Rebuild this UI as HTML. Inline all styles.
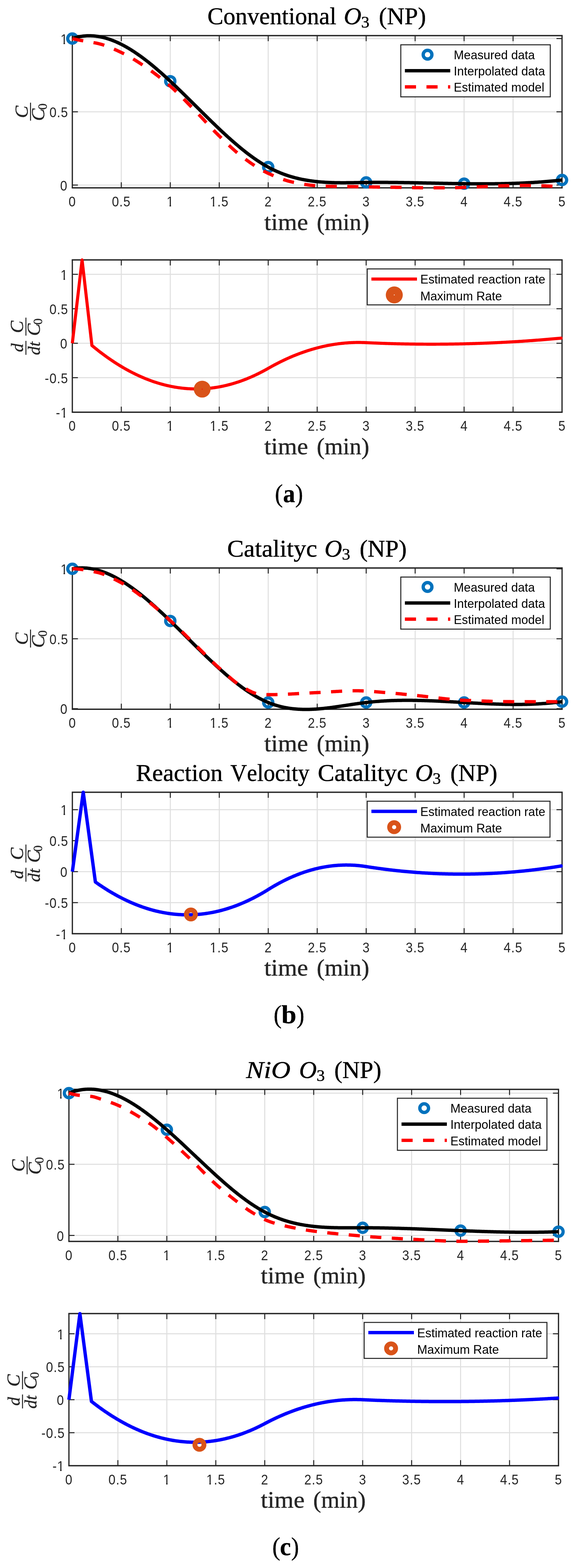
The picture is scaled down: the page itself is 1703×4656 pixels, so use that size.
<!DOCTYPE html>
<html lang="en"><head><meta charset="utf-8"><title>Figure</title>
<style>html,body{margin:0;padding:0;background:#fff}svg{display:block}text{white-space:pre;font-kerning:none}</style></head><body>
<svg width="1703" height="4656" viewBox="0 0 1703 4656" role="img" aria-label="Measured, interpolated and estimated concentration curves with estimated reaction rates">
<rect width="1703" height="4656" fill="#fff"/>
<clipPath id="k1e"><rect x="-200" y="-50.4" width="400" height="46.16"/><rect x="-13.4" y="-4.74" width="4.91" height="6.24"/></clipPath>
<clipPath id="k1n"><rect x="-200" y="-50.4" width="400" height="46.16"/><rect x="-14.9" y="-4.74" width="4.91" height="6.24"/></clipPath>
<clipPath id="k1m"><rect x="-200" y="-50.4" width="400" height="46.16"/><rect x="-1.72" y="-4.74" width="4.91" height="6.24"/></clipPath>
<clipPath id="k15"><rect x="-200" y="-50.4" width="400" height="46.16"/><rect x="-21.48" y="-4.74" width="4.91" height="6.24"/><rect x="-7.78" y="-4.74" width="200" height="10.24"/></clipPath>
<clipPath id="c1"><rect x="208.6" y="99.8" width="1464.9" height="463.9"/></clipPath>
<path d="M359.89,105.8V557.7M505.18,105.8V557.7M650.47,105.8V557.7M795.76,105.8V557.7M941.05,105.8V557.7M1086.34,105.8V557.7M1231.63,105.8V557.7M1376.92,105.8V557.7M1522.21,105.8V557.7M214.6,549.5H1667.5M214.6,332H1667.5M214.6,114.5H1667.5" stroke="#dfdfdf" stroke-width="3" fill="none"/>
<path d="M212.75,105.8H1669.35M212.75,557.7H1669.35" stroke="#262626" stroke-width="4" fill="none"/>
<path d="M214.6,105.8V557.7M1667.5,105.8V557.7" stroke="#262626" stroke-width="3.7" fill="none"/>
<path d="M359.89,557.7v-16.5M359.89,105.8v16.5M505.18,557.7v-16.5M505.18,105.8v16.5M650.47,557.7v-16.5M650.47,105.8v16.5M795.76,557.7v-16.5M795.76,105.8v16.5M941.05,557.7v-16.5M941.05,105.8v16.5M1086.34,557.7v-16.5M1086.34,105.8v16.5M1231.63,557.7v-16.5M1231.63,105.8v16.5M1376.92,557.7v-16.5M1376.92,105.8v16.5M1522.21,557.7v-16.5M1522.21,105.8v16.5M214.6,549.5h16.5M1667.5,549.5h-16.5M214.6,332h16.5M1667.5,332h-16.5M214.6,114.5h16.5M1667.5,114.5h-16.5" stroke="#262626" stroke-width="3" fill="none"/>
<g font-family='"Liberation Sans", sans-serif' fill="#262626">
<text transform="translate(214,613.1) scale(0.892,1)" text-anchor="middle" font-size="42">0</text>
<text transform="translate(359.96,613.1) scale(0.892,1)" text-anchor="middle" font-size="42" letter-spacing="1.5">0.5</text>
<text transform="translate(504.58,613.1) scale(0.892,1)" text-anchor="middle" font-size="42" clip-path="url(#k1m)">1</text>
<text transform="translate(650.54,613.1) scale(0.892,1)" text-anchor="middle" font-size="42" letter-spacing="1.5" clip-path="url(#k15)">1.5</text>
<text transform="translate(795.16,613.1) scale(0.892,1)" text-anchor="middle" font-size="42">2</text>
<text transform="translate(941.12,613.1) scale(0.892,1)" text-anchor="middle" font-size="42" letter-spacing="1.5">2.5</text>
<text transform="translate(1085.74,613.1) scale(0.892,1)" text-anchor="middle" font-size="42">3</text>
<text transform="translate(1231.7,613.1) scale(0.892,1)" text-anchor="middle" font-size="42" letter-spacing="1.5">3.5</text>
<text transform="translate(1376.32,613.1) scale(0.892,1)" text-anchor="middle" font-size="42">4</text>
<text transform="translate(1522.28,613.1) scale(0.892,1)" text-anchor="middle" font-size="42" letter-spacing="1.5">4.5</text>
<text transform="translate(1666.9,613.1) scale(0.892,1)" text-anchor="middle" font-size="42">5</text>
<text transform="translate(199.4,565.6) scale(0.892,1)" text-anchor="end" font-size="42">0</text>
<text transform="translate(202.74,348.1) scale(0.892,1)" text-anchor="end" font-size="42" letter-spacing="1.5">0.5</text>
<text transform="translate(200.4,130.6) scale(0.892,1)" text-anchor="end" font-size="42" clip-path="url(#k1e)">1</text>
</g>
<circle cx="214.6" cy="114.5" r="13.7" fill="none" stroke="#0072bd" stroke-width="9.5"/>
<circle cx="505.18" cy="241.17" r="13.7" fill="none" stroke="#0072bd" stroke-width="9.5"/>
<circle cx="795.76" cy="496.3" r="13.7" fill="none" stroke="#0072bd" stroke-width="9.5"/>
<circle cx="1086.34" cy="541.8" r="13.7" fill="none" stroke="#0072bd" stroke-width="9.5"/>
<circle cx="1376.92" cy="545.41" r="13.7" fill="none" stroke="#0072bd" stroke-width="9.5"/>
<circle cx="1667.5" cy="534.49" r="13.7" fill="none" stroke="#0072bd" stroke-width="9.5"/>
<path clip-path="url(#c1)" d="M214.6,114.5L217.51,113.55L220.41,112.65L223.32,111.82L226.22,111.05L229.13,110.34L232.03,109.68L234.94,109.09L237.85,108.55L240.75,108.07L243.66,107.64L246.56,107.27L249.47,106.96L252.38,106.7L255.28,106.5L258.19,106.35L261.09,106.26L264,106.21L266.9,106.23L269.81,106.29L272.72,106.41L275.62,106.57L278.53,106.79L281.43,107.06L284.34,107.38L287.25,107.75L290.15,108.17L293.06,108.63L295.96,109.15L298.87,109.71L301.77,110.32L304.68,110.97L307.59,111.67L310.49,112.42L313.4,113.21L316.3,114.05L319.21,114.93L322.11,115.85L325.02,116.82L327.93,117.83L330.83,118.89L333.74,119.98L336.64,121.12L339.55,122.29L342.46,123.51L345.36,124.77L348.27,126.06L351.17,127.4L354.08,128.77L356.98,130.18L359.89,131.63L362.8,133.12L365.7,134.64L368.61,136.2L371.51,137.8L374.42,139.42L377.32,141.09L380.23,142.79L383.14,144.52L386.04,146.28L388.95,148.08L391.85,149.91L394.76,151.77L397.67,153.66L400.57,155.58L403.48,157.54L406.38,159.52L409.29,161.53L412.19,163.57L415.1,165.64L418.01,167.74L420.91,169.86L423.82,172.01L426.72,174.19L429.63,176.39L432.54,178.62L435.44,180.87L438.35,183.15L441.25,185.45L444.16,187.78L447.06,190.13L449.97,192.5L452.88,194.89L455.78,197.3L458.69,199.74L461.59,202.2L464.5,204.67L467.4,207.17L470.31,209.68L473.22,212.21L476.12,214.77L479.03,217.33L481.93,219.92L484.84,222.52L487.75,225.14L490.65,227.78L493.56,230.43L496.46,233.09L499.37,235.77L502.27,238.47L505.18,241.17L508.09,243.89L510.99,246.62L513.9,249.37L516.8,252.12L519.71,254.89L522.61,257.66L525.52,260.45L528.43,263.24L531.33,266.05L534.24,268.86L537.14,271.68L540.05,274.51L542.96,277.35L545.86,280.19L548.77,283.04L551.67,285.89L554.58,288.75L557.48,291.62L560.39,294.48L563.3,297.36L566.2,300.23L569.11,303.11L572.01,305.99L574.92,308.87L577.83,311.75L580.73,314.64L583.64,317.52L586.54,320.4L589.45,323.29L592.35,326.17L595.26,329.05L598.17,331.93L601.07,334.8L603.98,337.67L606.88,340.54L609.79,343.41L612.69,346.27L615.6,349.12L618.51,351.97L621.41,354.82L624.32,357.66L627.22,360.49L630.13,363.31L633.04,366.13L635.94,368.93L638.85,371.73L641.75,374.52L644.66,377.3L647.56,380.07L650.47,382.82L653.38,385.57L656.28,388.31L659.19,391.03L662.09,393.74L665,396.43L667.9,399.12L670.81,401.79L673.72,404.44L676.62,407.08L679.53,409.7L682.43,412.31L685.34,414.9L688.25,417.47L691.15,420.03L694.06,422.57L696.96,425.09L699.87,427.59L702.77,430.07L705.68,432.53L708.59,434.97L711.49,437.39L714.4,439.79L717.3,442.17L720.21,444.52L723.12,446.85L726.02,449.16L728.93,451.44L731.83,453.7L734.74,455.94L737.64,458.15L740.55,460.33L743.46,462.49L746.36,464.62L749.27,466.73L752.17,468.8L755.08,470.85L757.98,472.87L760.89,474.86L763.8,476.82L766.7,478.75L769.61,480.65L772.51,482.52L775.42,484.36L778.33,486.17L781.23,487.94L784.14,489.68L787.04,491.39L789.95,493.06L792.85,494.7L795.76,496.3L798.67,497.87L801.57,499.4L804.48,500.9L807.38,502.36L810.29,503.79L813.19,505.19L816.1,506.56L819.01,507.89L821.91,509.19L824.82,510.45L827.72,511.69L830.63,512.89L833.54,514.07L836.44,515.21L839.35,516.32L842.25,517.4L845.16,518.46L848.06,519.48L850.97,520.48L853.88,521.45L856.78,522.39L859.69,523.3L862.59,524.19L865.5,525.05L868.41,525.88L871.31,526.69L874.22,527.47L877.12,528.23L880.03,528.96L882.93,529.67L885.84,530.36L888.75,531.02L891.65,531.66L894.56,532.27L897.46,532.87L900.37,533.44L903.27,533.99L906.18,534.51L909.09,535.02L911.99,535.51L914.9,535.98L917.8,536.42L920.71,536.85L923.62,537.26L926.52,537.65L929.43,538.02L932.33,538.38L935.24,538.71L938.14,539.03L941.05,539.34L943.96,539.63L946.86,539.9L949.77,540.15L952.67,540.39L955.58,540.62L958.48,540.83L961.39,541.03L964.3,541.21L967.2,541.39L970.11,541.54L973.01,541.69L975.92,541.82L978.83,541.95L981.73,542.06L984.64,542.16L987.54,542.25L990.45,542.33L993.35,542.4L996.26,542.46L999.17,542.51L1002.07,542.55L1004.98,542.59L1007.88,542.62L1010.79,542.64L1013.7,542.65L1016.6,542.65L1019.51,542.65L1022.41,542.65L1025.32,542.64L1028.22,542.62L1031.13,542.6L1034.04,542.57L1036.94,542.54L1039.85,542.51L1042.75,542.47L1045.66,542.43L1048.56,542.39L1051.47,542.35L1054.38,542.3L1057.28,542.26L1060.19,542.21L1063.09,542.16L1066,542.11L1068.91,542.06L1071.81,542.02L1074.72,541.97L1077.62,541.92L1080.53,541.88L1083.43,541.84L1086.34,541.8L1089.25,541.76L1092.15,541.73L1095.06,541.7L1097.96,541.67L1100.87,541.65L1103.77,541.63L1106.68,541.61L1109.59,541.59L1112.49,541.58L1115.4,541.57L1118.3,541.56L1121.21,541.55L1124.12,541.55L1127.02,541.55L1129.93,541.55L1132.83,541.55L1135.74,541.55L1138.64,541.56L1141.55,541.57L1144.46,541.58L1147.36,541.6L1150.27,541.61L1153.17,541.63L1156.08,541.65L1158.98,541.67L1161.89,541.69L1164.8,541.72L1167.7,541.75L1170.61,541.77L1173.51,541.8L1176.42,541.84L1179.33,541.87L1182.23,541.9L1185.14,541.94L1188.04,541.98L1190.95,542.02L1193.85,542.06L1196.76,542.1L1199.67,542.14L1202.57,542.19L1205.48,542.23L1208.38,542.28L1211.29,542.32L1214.2,542.37L1217.1,542.42L1220.01,542.47L1222.91,542.53L1225.82,542.58L1228.72,542.63L1231.63,542.68L1234.54,542.74L1237.44,542.79L1240.35,542.85L1243.25,542.91L1246.16,542.96L1249.06,543.02L1251.97,543.08L1254.88,543.14L1257.78,543.2L1260.69,543.26L1263.59,543.32L1266.5,543.38L1269.41,543.44L1272.31,543.5L1275.22,543.56L1278.12,543.62L1281.03,543.68L1283.93,543.74L1286.84,543.8L1289.75,543.86L1292.65,543.92L1295.56,543.98L1298.46,544.04L1301.37,544.1L1304.27,544.16L1307.18,544.22L1310.09,544.28L1312.99,544.34L1315.9,544.39L1318.8,544.45L1321.71,544.51L1324.62,544.56L1327.52,544.62L1330.43,544.67L1333.33,544.73L1336.24,544.78L1339.14,544.83L1342.05,544.88L1344.96,544.93L1347.86,544.98L1350.77,545.03L1353.67,545.08L1356.58,545.12L1359.49,545.17L1362.39,545.21L1365.3,545.25L1368.2,545.3L1371.11,545.34L1374.01,545.37L1376.92,545.41L1379.83,545.45L1382.73,545.48L1385.64,545.51L1388.54,545.54L1391.45,545.57L1394.35,545.6L1397.26,545.63L1400.17,545.65L1403.07,545.67L1405.98,545.7L1408.88,545.71L1411.79,545.73L1414.7,545.75L1417.6,545.76L1420.51,545.77L1423.41,545.78L1426.32,545.78L1429.22,545.79L1432.13,545.79L1435.04,545.79L1437.94,545.79L1440.85,545.78L1443.75,545.78L1446.66,545.77L1449.57,545.75L1452.47,545.74L1455.38,545.72L1458.28,545.7L1461.19,545.68L1464.09,545.65L1467,545.63L1469.91,545.59L1472.81,545.56L1475.72,545.52L1478.62,545.48L1481.53,545.44L1484.43,545.4L1487.34,545.35L1490.25,545.29L1493.15,545.24L1496.06,545.18L1498.96,545.12L1501.87,545.05L1504.78,544.99L1507.68,544.92L1510.59,544.84L1513.49,544.76L1516.4,544.68L1519.3,544.59L1522.21,544.5L1525.12,544.41L1528.02,544.32L1530.93,544.22L1533.83,544.11L1536.74,544L1539.64,543.89L1542.55,543.78L1545.46,543.66L1548.36,543.53L1551.27,543.41L1554.17,543.27L1557.08,543.14L1559.99,543L1562.89,542.85L1565.8,542.71L1568.7,542.55L1571.61,542.4L1574.51,542.24L1577.42,542.07L1580.33,541.9L1583.23,541.72L1586.14,541.55L1589.04,541.36L1591.95,541.17L1594.86,540.98L1597.76,540.78L1600.67,540.58L1603.57,540.37L1606.48,540.16L1609.38,539.94L1612.29,539.72L1615.2,539.49L1618.1,539.26L1621.01,539.02L1623.91,538.78L1626.82,538.53L1629.72,538.28L1632.63,538.02L1635.54,537.76L1638.44,537.49L1641.35,537.21L1644.25,536.93L1647.16,536.65L1650.07,536.36L1652.97,536.06L1655.88,535.76L1658.78,535.45L1661.69,535.14L1664.59,534.82L1667.5,534.49" fill="none" stroke="#000" stroke-width="10" stroke-linejoin="round"/>
<path clip-path="url(#c1)" d="M214.6,114.5L217.51,115.22L220.41,115.92L223.32,116.61L226.22,117.26L229.13,117.89L232.03,118.49L234.94,119.06L237.85,119.61L240.75,120.13L243.66,120.65L246.56,121.15L249.47,121.65L252.38,122.16L255.28,122.67L258.19,123.2L261.09,123.72L264,124.23L266.9,124.72L269.81,125.21L272.72,125.7L275.62,126.2L278.53,126.71L281.43,127.24L284.34,127.8L287.25,128.39L290.15,129.02L293.06,129.69L295.96,130.41L298.87,131.19L301.77,132.02L304.68,132.89L307.59,133.82L310.49,134.79L313.4,135.8L316.3,136.85L319.21,137.94L322.11,139.06L325.02,140.22L327.93,141.4L330.83,142.62L333.74,143.86L336.64,145.12L339.55,146.41L342.46,147.72L345.36,149.04L348.27,150.38L351.17,151.73L354.08,153.09L356.98,154.45L359.89,155.82L362.8,157.22L365.7,158.65L368.61,160.12L371.51,161.63L374.42,163.17L377.32,164.75L380.23,166.36L383.14,168L386.04,169.67L388.95,171.36L391.85,173.09L394.76,174.84L397.67,176.61L400.57,178.41L403.48,180.23L406.38,182.07L409.29,183.93L412.19,185.81L415.1,187.7L418.01,189.61L420.91,191.53L423.82,193.46L426.72,195.41L429.63,197.36L432.54,199.32L435.44,201.3L438.35,203.31L441.25,205.34L444.16,207.4L447.06,209.48L449.97,211.58L452.88,213.71L455.78,215.86L458.69,218.04L461.59,220.24L464.5,222.46L467.4,224.71L470.31,226.98L473.22,229.27L476.12,231.58L479.03,233.92L481.93,236.27L484.84,238.65L487.75,241.05L490.65,243.47L493.56,245.91L496.46,248.37L499.37,250.85L502.27,253.35L505.18,255.88L508.09,258.43L510.99,261.03L513.9,263.67L516.8,266.35L519.71,269.07L522.61,271.83L525.52,274.62L528.43,277.44L531.33,280.28L534.24,283.16L537.14,286.05L540.05,288.97L542.96,291.9L545.86,294.85L548.77,297.82L551.67,300.79L554.58,303.78L557.48,306.77L560.39,309.76L563.3,312.75L566.2,315.74L569.11,318.73L572.01,321.71L574.92,324.69L577.83,327.65L580.73,330.62L583.64,333.62L586.54,336.65L589.45,339.7L592.35,342.78L595.26,345.87L598.17,348.97L601.07,352.09L603.98,355.21L606.88,358.34L609.79,361.47L612.69,364.6L615.6,367.73L618.51,370.85L621.41,373.95L624.32,377.05L627.22,380.13L630.13,383.18L633.04,386.22L635.94,389.23L638.85,392.21L641.75,395.16L644.66,398.07L647.56,400.94L650.47,403.77L653.38,406.59L656.28,409.4L659.19,412.22L662.09,415.03L665,417.84L667.9,420.63L670.81,423.42L673.72,426.2L676.62,428.96L679.53,431.7L682.43,434.43L685.34,437.13L688.25,439.8L691.15,442.45L694.06,445.06L696.96,447.65L699.87,450.2L702.77,452.71L705.68,455.18L708.59,457.61L711.49,459.99L714.4,462.33L717.3,464.61L720.21,466.85L723.12,469.02L726.02,471.17L728.93,473.3L731.83,475.41L734.74,477.51L737.64,479.59L740.55,481.65L743.46,483.69L746.36,485.7L749.27,487.69L752.17,489.65L755.08,491.58L757.98,493.49L760.89,495.36L763.8,497.2L766.7,499L769.61,500.76L772.51,502.49L775.42,504.17L778.33,505.82L781.23,507.42L784.14,508.97L787.04,510.48L789.95,511.94L792.85,513.34L795.76,514.7L798.67,516.02L801.57,517.33L804.48,518.63L807.38,519.91L810.29,521.18L813.19,522.42L816.1,523.65L819.01,524.85L821.91,526.04L824.82,527.2L827.72,528.33L830.63,529.44L833.54,530.52L836.44,531.57L839.35,532.59L842.25,533.58L845.16,534.53L848.06,535.45L850.97,536.34L853.88,537.18L856.78,537.99L859.69,538.76L862.59,539.48L865.5,540.16L868.41,540.8L871.31,541.41L874.22,542.01L877.12,542.6L880.03,543.19L882.93,543.76L885.84,544.32L888.75,544.86L891.65,545.4L894.56,545.91L897.46,546.42L900.37,546.91L903.27,547.38L906.18,547.84L909.09,548.27L911.99,548.69L914.9,549.09L917.8,549.47L920.71,549.83L923.62,550.16L926.52,550.48L929.43,550.77L932.33,551.03L935.24,551.27L938.14,551.49L941.05,551.67L943.96,551.85L946.86,552.01L949.77,552.16L952.67,552.31L955.58,552.45L958.48,552.58L961.39,552.71L964.3,552.82L967.2,552.93L970.11,553.03L973.01,553.13L975.92,553.21L978.83,553.29L981.73,553.35L984.64,553.41L987.54,553.47L990.45,553.52L993.35,553.57L996.26,553.61L999.17,553.65L1002.07,553.69L1004.98,553.72L1007.88,553.76L1010.79,553.79L1013.7,553.82L1016.6,553.85L1019.51,553.88L1022.41,553.9L1025.32,553.93L1028.22,553.96L1031.13,553.98L1034.04,554.01L1036.94,554.04L1039.85,554.07L1042.75,554.1L1045.66,554.13L1048.56,554.17L1051.47,554.2L1054.38,554.24L1057.28,554.28L1060.19,554.33L1063.09,554.38L1066,554.43L1068.91,554.48L1071.81,554.54L1074.72,554.6L1077.62,554.66L1080.53,554.72L1083.43,554.78L1086.34,554.84L1089.25,554.9L1092.15,554.96L1095.06,555.02L1097.96,555.08L1100.87,555.14L1103.77,555.2L1106.68,555.26L1109.59,555.31L1112.49,555.37L1115.4,555.42L1118.3,555.46L1121.21,555.51L1124.12,555.56L1127.02,555.6L1129.93,555.64L1132.83,555.69L1135.74,555.73L1138.64,555.77L1141.55,555.81L1144.46,555.85L1147.36,555.89L1150.27,555.93L1153.17,555.97L1156.08,556.01L1158.98,556.05L1161.89,556.09L1164.8,556.13L1167.7,556.17L1170.61,556.21L1173.51,556.25L1176.42,556.29L1179.33,556.33L1182.23,556.37L1185.14,556.42L1188.04,556.46L1190.95,556.51L1193.85,556.55L1196.76,556.61L1199.67,556.66L1202.57,556.72L1205.48,556.77L1208.38,556.83L1211.29,556.89L1214.2,556.95L1217.1,557.01L1220.01,557.07L1222.91,557.13L1225.82,557.19L1228.72,557.24L1231.63,557.3L1234.54,557.35L1237.44,557.39L1240.35,557.44L1243.25,557.47L1246.16,557.51L1249.06,557.54L1251.97,557.56L1254.88,557.58L1257.78,557.59L1260.69,557.59L1263.59,557.59L1266.5,557.59L1269.41,557.59L1272.31,557.59L1275.22,557.59L1278.12,557.59L1281.03,557.59L1283.93,557.59L1286.84,557.59L1289.75,557.59L1292.65,557.59L1295.56,557.59L1298.46,557.59L1301.37,557.59L1304.27,557.59L1307.18,557.59L1310.09,557.59L1312.99,557.59L1315.9,557.59L1318.8,557.59L1321.71,557.59L1324.62,557.59L1327.52,557.59L1330.43,557.59L1333.33,557.59L1336.24,557.58L1339.14,557.56L1342.05,557.52L1344.96,557.46L1347.86,557.4L1350.77,557.32L1353.67,557.24L1356.58,557.15L1359.49,557.06L1362.39,556.96L1365.3,556.86L1368.2,556.75L1371.11,556.65L1374.01,556.55L1376.92,556.46L1379.83,556.37L1382.73,556.27L1385.64,556.16L1388.54,556.05L1391.45,555.94L1394.35,555.82L1397.26,555.71L1400.17,555.58L1403.07,555.46L1405.98,555.33L1408.88,555.21L1411.79,555.08L1414.7,554.95L1417.6,554.82L1420.51,554.69L1423.41,554.56L1426.32,554.44L1429.22,554.31L1432.13,554.19L1435.04,554.07L1437.94,553.95L1440.85,553.82L1443.75,553.69L1446.66,553.55L1449.57,553.42L1452.47,553.28L1455.38,553.14L1458.28,553L1461.19,552.87L1464.09,552.73L1467,552.6L1469.91,552.47L1472.81,552.35L1475.72,552.23L1478.62,552.12L1481.53,552.01L1484.43,551.91L1487.34,551.82L1490.25,551.74L1493.15,551.67L1496.06,551.61L1498.96,551.55L1501.87,551.48L1504.78,551.42L1507.68,551.36L1510.59,551.29L1513.49,551.23L1516.4,551.18L1519.3,551.12L1522.21,551.07L1525.12,551.01L1528.02,550.97L1530.93,550.92L1533.83,550.88L1536.74,550.84L1539.64,550.8L1542.55,550.77L1545.46,550.74L1548.36,550.72L1551.27,550.7L1554.17,550.69L1557.08,550.68L1559.99,550.67L1562.89,550.68L1565.8,550.7L1568.7,550.72L1571.61,550.75L1574.51,550.8L1577.42,550.85L1580.33,550.9L1583.23,550.96L1586.14,551.03L1589.04,551.1L1591.95,551.18L1594.86,551.26L1597.76,551.34L1600.67,551.42L1603.57,551.51L1606.48,551.59L1609.38,551.67L1612.29,551.77L1615.2,551.88L1618.1,552L1621.01,552.13L1623.91,552.27L1626.82,552.41L1629.72,552.56L1632.63,552.7L1635.54,552.85L1638.44,552.98L1641.35,553.11L1644.25,553.24L1647.16,553.37L1650.07,553.5L1652.97,553.63L1655.88,553.76L1658.78,553.89L1661.69,554.02L1664.59,554.15L1667.5,554.28" fill="none" stroke="#f00" stroke-width="9.8" stroke-linejoin="round" stroke-dasharray="33 31"/>
<rect x="1189.1" y="133" width="443.5" height="154.6" fill="#fff" stroke="#262626" stroke-width="3"/>
<g font-family='"Liberation Sans", sans-serif' fill="#000" font-size="37">
<circle cx="1268.5" cy="162.4" r="12.9" fill="none" stroke="#0072bd" stroke-width="9.9"/>
<text transform="translate(1346.3,176) scale(0.975,1)">Measured data</text>
<path d="M1201.3,210H1335.8" stroke="#000" stroke-width="10" fill="none"/>
<text transform="translate(1346.3,224.1) scale(0.975,1)">Interpolated data</text>
<path d="M1201.3,258H1335.8" stroke="#f00" stroke-width="9.8" stroke-dasharray="33 31" fill="none"/>
<text transform="translate(1346.3,272.4) scale(0.975,1)">Estimated model</text>
</g>
<g font-family='"Liberation Serif", serif' fill="#000" stroke="#000" stroke-width="0.7">
<text transform="translate(615.44,72.2) scale(0.9932,1)" font-size="71.5">Conventional</text>
<text transform="translate(1020.02,72.2) scale(1.0094,1)" font-size="71.5" font-style="italic">O</text>
<text transform="translate(1071.6,81.6) scale(1.0238,1)" font-size="48">3</text>
<text transform="translate(1124.09,72.2) scale(1.0058,1)" font-size="71.5">(NP)</text>
</g>
<g font-family='"Liberation Serif", serif' fill="#262626" stroke="#262626" stroke-width="0.7">
<text transform="translate(783.94,682.7) scale(1.0605,1)" font-size="69">time</text>
<text transform="translate(939.67,682.7) scale(1.0168,1)" font-size="69">(min)</text>
</g>
<g font-family='"Liberation Serif", serif' fill="#262626" stroke="#262626" stroke-width="0.6" font-style="italic" transform="translate(90.6,331.75) rotate(-90)">
<rect x="-26.5" y="-1.45" width="53.4" height="2.9" stroke="none"/>
<text x="-18.8" y="-9" font-size="55">C</text>
<text x="-27.2" y="40.7" font-size="55">C</text>
<text x="6" y="48" font-size="37" font-style="normal">0</text>
</g>
<clipPath id="c2"><rect x="208.6" y="765.8" width="1464.9" height="464.1"/></clipPath>
<path d="M359.89,771.8V1223.9M505.18,771.8V1223.9M650.47,771.8V1223.9M795.76,771.8V1223.9M941.05,771.8V1223.9M1086.34,771.8V1223.9M1231.63,771.8V1223.9M1376.92,771.8V1223.9M1522.21,771.8V1223.9M214.6,1121.55H1667.5M214.6,1019.2H1667.5M214.6,916.85H1667.5M214.6,814.5H1667.5" stroke="#dfdfdf" stroke-width="3" fill="none"/>
<path d="M212.75,771.8H1669.35M212.75,1223.9H1669.35" stroke="#262626" stroke-width="4" fill="none"/>
<path d="M214.6,771.8V1223.9M1667.5,771.8V1223.9" stroke="#262626" stroke-width="3.7" fill="none"/>
<path d="M359.89,1223.9v-16.5M359.89,771.8v16.5M505.18,1223.9v-16.5M505.18,771.8v16.5M650.47,1223.9v-16.5M650.47,771.8v16.5M795.76,1223.9v-16.5M795.76,771.8v16.5M941.05,1223.9v-16.5M941.05,771.8v16.5M1086.34,1223.9v-16.5M1086.34,771.8v16.5M1231.63,1223.9v-16.5M1231.63,771.8v16.5M1376.92,1223.9v-16.5M1376.92,771.8v16.5M1522.21,1223.9v-16.5M1522.21,771.8v16.5M214.6,1121.55h16.5M1667.5,1121.55h-16.5M214.6,1019.2h16.5M1667.5,1019.2h-16.5M214.6,916.85h16.5M1667.5,916.85h-16.5M214.6,814.5h16.5M1667.5,814.5h-16.5" stroke="#262626" stroke-width="3" fill="none"/>
<g font-family='"Liberation Sans", sans-serif' fill="#262626">
<text transform="translate(214,1279.3) scale(0.892,1)" text-anchor="middle" font-size="42">0</text>
<text transform="translate(359.96,1279.3) scale(0.892,1)" text-anchor="middle" font-size="42" letter-spacing="1.5">0.5</text>
<text transform="translate(504.58,1279.3) scale(0.892,1)" text-anchor="middle" font-size="42" clip-path="url(#k1m)">1</text>
<text transform="translate(650.54,1279.3) scale(0.892,1)" text-anchor="middle" font-size="42" letter-spacing="1.5" clip-path="url(#k15)">1.5</text>
<text transform="translate(795.16,1279.3) scale(0.892,1)" text-anchor="middle" font-size="42">2</text>
<text transform="translate(941.12,1279.3) scale(0.892,1)" text-anchor="middle" font-size="42" letter-spacing="1.5">2.5</text>
<text transform="translate(1085.74,1279.3) scale(0.892,1)" text-anchor="middle" font-size="42">3</text>
<text transform="translate(1231.7,1279.3) scale(0.892,1)" text-anchor="middle" font-size="42" letter-spacing="1.5">3.5</text>
<text transform="translate(1376.32,1279.3) scale(0.892,1)" text-anchor="middle" font-size="42">4</text>
<text transform="translate(1522.28,1279.3) scale(0.892,1)" text-anchor="middle" font-size="42" letter-spacing="1.5">4.5</text>
<text transform="translate(1666.9,1279.3) scale(0.892,1)" text-anchor="middle" font-size="42">5</text>
<text transform="translate(201.74,1240) scale(0.892,1)" text-anchor="end" font-size="42" letter-spacing="1.5" clip-path="url(#k1n)">-1</text>
<text transform="translate(202.74,1137.65) scale(0.892,1)" text-anchor="end" font-size="42" letter-spacing="1.5">-0.5</text>
<text transform="translate(199.4,1035.3) scale(0.892,1)" text-anchor="end" font-size="42">0</text>
<text transform="translate(202.74,932.95) scale(0.892,1)" text-anchor="end" font-size="42" letter-spacing="1.5">0.5</text>
<text transform="translate(200.4,830.6) scale(0.892,1)" text-anchor="end" font-size="42" clip-path="url(#k1e)">1</text>
</g>
<circle cx="1665" cy="1004.07" r="4.3" fill="#f00"/>
<path clip-path="url(#c2)" d="M214.6,1019.2L243.51,771.8L272.72,1025.87L275.62,1028.28L278.53,1030.67L281.43,1033.03L284.34,1035.37L287.25,1037.69L290.15,1039.99L293.06,1042.26L295.96,1044.51L298.87,1046.74L301.77,1048.94L304.68,1051.12L307.59,1053.28L310.49,1055.42L313.4,1057.53L316.3,1059.62L319.21,1061.69L322.11,1063.74L325.02,1065.76L327.93,1067.76L330.83,1069.74L333.74,1071.69L336.64,1073.62L339.55,1075.53L342.46,1077.42L345.36,1079.29L348.27,1081.13L351.17,1082.95L354.08,1084.74L356.98,1086.52L359.89,1088.27L362.8,1089.99L365.7,1091.7L368.61,1093.38L371.51,1095.04L374.42,1096.68L377.32,1098.29L380.23,1099.88L383.14,1101.45L386.04,1103L388.95,1104.52L391.85,1106.03L394.76,1107.5L397.67,1108.96L400.57,1110.39L403.48,1111.8L406.38,1113.19L409.29,1114.55L412.19,1115.9L415.1,1117.22L418.01,1118.51L420.91,1119.79L423.82,1121.04L426.72,1122.27L429.63,1123.47L432.54,1124.66L435.44,1125.82L438.35,1126.95L441.25,1128.07L444.16,1129.16L447.06,1130.23L449.97,1131.28L452.88,1132.3L455.78,1133.31L458.69,1134.28L461.59,1135.24L464.5,1136.17L467.4,1137.08L470.31,1137.97L473.22,1138.84L476.12,1139.68L479.03,1140.5L481.93,1141.3L484.84,1142.07L487.75,1142.83L490.65,1143.55L493.56,1144.26L496.46,1144.95L499.37,1145.61L502.27,1146.25L505.18,1146.86L508.09,1147.45L510.99,1148.02L513.9,1148.57L516.8,1149.1L519.71,1149.6L522.61,1150.08L525.52,1150.54L528.43,1150.97L531.33,1151.38L534.24,1151.77L537.14,1152.14L540.05,1152.48L542.96,1152.8L545.86,1153.1L548.77,1153.37L551.67,1153.63L554.58,1153.86L557.48,1154.06L560.39,1154.25L563.3,1154.41L566.2,1154.55L569.11,1154.67L572.01,1154.76L574.92,1154.83L577.83,1154.88L580.73,1154.91L583.64,1154.91L586.54,1154.89L589.45,1154.85L592.35,1154.78L595.26,1154.69L598.17,1154.58L601.07,1154.45L603.98,1154.29L606.88,1154.12L609.79,1153.91L612.69,1153.69L615.6,1153.44L618.51,1153.17L621.41,1152.88L624.32,1152.57L627.22,1152.23L630.13,1151.87L633.04,1151.49L635.94,1151.08L638.85,1150.65L641.75,1150.2L644.66,1149.73L647.56,1149.23L650.47,1148.71L653.38,1148.17L656.28,1147.61L659.19,1147.02L662.09,1146.41L665,1145.78L667.9,1145.12L670.81,1144.44L673.72,1143.74L676.62,1143.02L679.53,1142.28L682.43,1141.51L685.34,1140.71L688.25,1139.9L691.15,1139.06L694.06,1138.2L696.96,1137.32L699.87,1136.42L702.77,1135.49L705.68,1134.54L708.59,1133.57L711.49,1132.57L714.4,1131.55L717.3,1130.51L720.21,1129.45L723.12,1128.36L726.02,1127.25L728.93,1126.12L731.83,1124.97L734.74,1123.79L737.64,1122.59L740.55,1121.37L743.46,1120.12L746.36,1118.85L749.27,1117.56L752.17,1116.25L755.08,1114.91L757.98,1113.55L760.89,1112.17L763.8,1110.77L766.7,1109.34L769.61,1107.89L772.51,1106.42L775.42,1104.92L778.33,1103.41L781.23,1101.87L784.14,1100.3L787.04,1098.72L789.95,1097.11L792.85,1095.48L795.76,1093.82L798.67,1092.17L801.57,1090.53L804.48,1088.91L807.38,1087.31L810.29,1085.72L813.19,1084.16L816.1,1082.61L819.01,1081.08L821.91,1079.57L824.82,1078.07L827.72,1076.6L830.63,1075.14L833.54,1073.7L836.44,1072.28L839.35,1070.87L842.25,1069.49L845.16,1068.12L848.06,1066.77L850.97,1065.44L853.88,1064.13L856.78,1062.83L859.69,1061.55L862.59,1060.29L865.5,1059.05L868.41,1057.83L871.31,1056.62L874.22,1055.43L877.12,1054.27L880.03,1053.11L882.93,1051.98L885.84,1050.87L888.75,1049.77L891.65,1048.69L894.56,1047.63L897.46,1046.58L900.37,1045.56L903.27,1044.55L906.18,1043.56L909.09,1042.59L911.99,1041.64L914.9,1040.7L917.8,1039.79L920.71,1038.89L923.62,1038.01L926.52,1037.14L929.43,1036.3L932.33,1035.47L935.24,1034.66L938.14,1033.87L941.05,1033.1L943.96,1032.34L946.86,1031.61L949.77,1030.89L952.67,1030.19L955.58,1029.51L958.48,1028.84L961.39,1028.19L964.3,1027.57L967.2,1026.96L970.11,1026.36L973.01,1025.79L975.92,1025.23L978.83,1024.69L981.73,1024.17L984.64,1023.67L987.54,1023.19L990.45,1022.72L993.35,1022.27L996.26,1021.84L999.17,1021.43L1002.07,1021.04L1004.98,1020.66L1007.88,1020.3L1010.79,1019.96L1013.7,1019.64L1016.6,1019.34L1019.51,1019.05L1022.41,1018.78L1025.32,1018.53L1028.22,1018.3L1031.13,1018.09L1034.04,1017.89L1036.94,1017.71L1039.85,1017.55L1042.75,1017.41L1045.66,1017.29L1048.56,1017.18L1051.47,1017.09L1054.38,1017.02L1057.28,1016.97L1060.19,1016.94L1063.09,1016.92L1066,1016.93L1068.91,1016.95L1071.81,1016.99L1074.72,1017.04L1077.62,1017.12L1080.53,1017.21L1083.43,1017.32L1086.34,1017.45L1089.25,1017.58L1092.15,1017.72L1095.06,1017.85L1097.96,1017.98L1100.87,1018.11L1103.77,1018.24L1106.68,1018.36L1109.59,1018.48L1112.49,1018.6L1115.4,1018.72L1118.3,1018.84L1121.21,1018.95L1124.12,1019.06L1127.02,1019.17L1129.93,1019.28L1132.83,1019.39L1135.74,1019.49L1138.64,1019.59L1141.55,1019.69L1144.46,1019.79L1147.36,1019.89L1150.27,1019.98L1153.17,1020.07L1156.08,1020.16L1158.98,1020.25L1161.89,1020.33L1164.8,1020.42L1167.7,1020.5L1170.61,1020.58L1173.51,1020.65L1176.42,1020.73L1179.33,1020.8L1182.23,1020.87L1185.14,1020.94L1188.04,1021.01L1190.95,1021.07L1193.85,1021.13L1196.76,1021.19L1199.67,1021.25L1202.57,1021.31L1205.48,1021.36L1208.38,1021.41L1211.29,1021.46L1214.2,1021.51L1217.1,1021.56L1220.01,1021.6L1222.91,1021.64L1225.82,1021.68L1228.72,1021.72L1231.63,1021.76L1234.54,1021.79L1237.44,1021.82L1240.35,1021.85L1243.25,1021.88L1246.16,1021.91L1249.06,1021.93L1251.97,1021.95L1254.88,1021.97L1257.78,1021.99L1260.69,1022L1263.59,1022.01L1266.5,1022.03L1269.41,1022.03L1272.31,1022.04L1275.22,1022.05L1278.12,1022.05L1281.03,1022.05L1283.93,1022.05L1286.84,1022.04L1289.75,1022.04L1292.65,1022.03L1295.56,1022.02L1298.46,1022.01L1301.37,1022L1304.27,1021.98L1307.18,1021.96L1310.09,1021.94L1312.99,1021.92L1315.9,1021.9L1318.8,1021.87L1321.71,1021.84L1324.62,1021.81L1327.52,1021.78L1330.43,1021.75L1333.33,1021.71L1336.24,1021.67L1339.14,1021.63L1342.05,1021.59L1344.96,1021.54L1347.86,1021.5L1350.77,1021.45L1353.67,1021.4L1356.58,1021.34L1359.49,1021.29L1362.39,1021.23L1365.3,1021.17L1368.2,1021.11L1371.11,1021.05L1374.01,1020.98L1376.92,1020.92L1379.83,1020.85L1382.73,1020.77L1385.64,1020.7L1388.54,1020.63L1391.45,1020.55L1394.35,1020.47L1397.26,1020.39L1400.17,1020.3L1403.07,1020.22L1405.98,1020.13L1408.88,1020.04L1411.79,1019.95L1414.7,1019.85L1417.6,1019.76L1420.51,1019.66L1423.41,1019.56L1426.32,1019.46L1429.22,1019.35L1432.13,1019.24L1435.04,1019.14L1437.94,1019.02L1440.85,1018.91L1443.75,1018.8L1446.66,1018.68L1449.57,1018.56L1452.47,1018.44L1455.38,1018.32L1458.28,1018.19L1461.19,1018.07L1464.09,1017.94L1467,1017.81L1469.91,1017.67L1472.81,1017.54L1475.72,1017.4L1478.62,1017.26L1481.53,1017.12L1484.43,1016.97L1487.34,1016.83L1490.25,1016.68L1493.15,1016.53L1496.06,1016.38L1498.96,1016.23L1501.87,1016.07L1504.78,1015.91L1507.68,1015.75L1510.59,1015.59L1513.49,1015.43L1516.4,1015.26L1519.3,1015.09L1522.21,1014.92L1525.12,1014.75L1528.02,1014.57L1530.93,1014.4L1533.83,1014.22L1536.74,1014.04L1539.64,1013.86L1542.55,1013.67L1545.46,1013.48L1548.36,1013.29L1551.27,1013.1L1554.17,1012.91L1557.08,1012.72L1559.99,1012.52L1562.89,1012.32L1565.8,1012.12L1568.7,1011.91L1571.61,1011.71L1574.51,1011.5L1577.42,1011.29L1580.33,1011.08L1583.23,1010.87L1586.14,1010.65L1589.04,1010.43L1591.95,1010.21L1594.86,1009.99L1597.76,1009.77L1600.67,1009.54L1603.57,1009.31L1606.48,1009.08L1609.38,1008.85L1612.29,1008.62L1615.2,1008.38L1618.1,1008.14L1621.01,1007.9L1623.91,1007.66L1626.82,1007.41L1629.72,1007.17L1632.63,1006.92L1635.54,1006.67L1638.44,1006.42L1641.35,1006.16L1644.25,1005.9L1647.16,1005.64L1650.07,1005.38L1652.97,1005.12L1655.88,1004.86L1658.78,1004.59L1661.69,1004.32L1664.59,1004.05L1667.5,1003.77" fill="none" stroke="#f00" stroke-width="9.2" stroke-linejoin="round"/>
<circle cx="599.91" cy="1155.53" r="25" fill="#d95319"/><circle cx="599.91" cy="1155.53" r="1.3" fill="#f00"/>
<rect x="1089.5" y="798.5" width="542.3" height="106.8" fill="#fff" stroke="#262626" stroke-width="3"/>
<g font-family='"Liberation Sans", sans-serif' fill="#000" font-size="37">
<path d="M1101.9,828.6H1237.1" stroke="#f00" stroke-width="9.2" fill="none"/>
<text transform="translate(1246.9,842.4) scale(0.975,1)">Estimated reaction rate</text>
<circle cx="1169.8" cy="875.8" r="25.2" fill="#d95319"/><circle cx="1169.8" cy="875.8" r="1.3" fill="#fff"/>
<text transform="translate(1246.9,891.7) scale(0.975,1)">Maximum Rate</text>
</g>
<g font-family='"Liberation Serif", serif' fill="#262626" stroke="#262626" stroke-width="0.7">
<text transform="translate(783.94,1348.9) scale(1.0605,1)" font-size="69">time</text>
<text transform="translate(939.67,1348.9) scale(1.0168,1)" font-size="69">(min)</text>
</g>
<g font-family='"Liberation Serif", serif' fill="#262626" stroke="#262626" stroke-width="0.6" font-style="italic" transform="translate(76.9,997.85) rotate(-90)">
<rect x="-55.75" y="-1.45" width="41.4" height="2.9" stroke="none"/>
<text x="-47.45" y="-9" font-size="51">d</text>
<text x="-56.35" y="40.7" font-size="51">dt</text>
<rect x="1.25" y="-1.45" width="53.4" height="2.9" stroke="none"/>
<text x="8.95" y="-9" font-size="55">C</text>
<text x="0.55" y="40.7" font-size="55">C</text>
<text x="33.75" y="48" font-size="37" font-style="normal">0</text>
</g>
<g font-family='"Liberation Serif", serif' fill="#000" stroke="#000" stroke-width="0.5">
<text transform="translate(815.55,1491) scale(0.9489,1)" font-size="75.5">(</text>
<text transform="translate(839.69,1491) scale(0.9481,1)" font-size="75.5" font-weight="bold">a</text>
<text transform="translate(875.74,1491) scale(0.9283,1)" font-size="75.5">)</text>
</g>
<clipPath id="c3"><rect x="208.7" y="1680.5" width="1464.9" height="431.5"/></clipPath>
<path d="M359.99,1686.5V2106M505.28,1686.5V2106M650.57,1686.5V2106M795.86,1686.5V2106M941.15,1686.5V2106M1086.44,1686.5V2106M1231.73,1686.5V2106M1377.02,1686.5V2106M1522.31,1686.5V2106M214.7,1896.65H1667.6M214.7,1689H1667.6" stroke="#dfdfdf" stroke-width="3" fill="none"/>
<path d="M212.85,1686.5H1669.45M212.85,2106H1669.45" stroke="#262626" stroke-width="4" fill="none"/>
<path d="M214.7,1686.5V2106M1667.6,1686.5V2106" stroke="#262626" stroke-width="3.7" fill="none"/>
<path d="M359.99,2106v-16.5M359.99,1686.5v16.5M505.28,2106v-16.5M505.28,1686.5v16.5M650.57,2106v-16.5M650.57,1686.5v16.5M795.86,2106v-16.5M795.86,1686.5v16.5M941.15,2106v-16.5M941.15,1686.5v16.5M1086.44,2106v-16.5M1086.44,1686.5v16.5M1231.73,2106v-16.5M1231.73,1686.5v16.5M1377.02,2106v-16.5M1377.02,1686.5v16.5M1522.31,2106v-16.5M1522.31,1686.5v16.5M214.7,2104.3h16.5M1667.6,2104.3h-16.5M214.7,1896.65h16.5M1667.6,1896.65h-16.5M214.7,1689h16.5M1667.6,1689h-16.5" stroke="#262626" stroke-width="3" fill="none"/>
<g font-family='"Liberation Sans", sans-serif' fill="#262626">
<text transform="translate(214.1,2161.4) scale(0.892,1)" text-anchor="middle" font-size="42">0</text>
<text transform="translate(360.06,2161.4) scale(0.892,1)" text-anchor="middle" font-size="42" letter-spacing="1.5">0.5</text>
<text transform="translate(504.68,2161.4) scale(0.892,1)" text-anchor="middle" font-size="42" clip-path="url(#k1m)">1</text>
<text transform="translate(650.64,2161.4) scale(0.892,1)" text-anchor="middle" font-size="42" letter-spacing="1.5" clip-path="url(#k15)">1.5</text>
<text transform="translate(795.26,2161.4) scale(0.892,1)" text-anchor="middle" font-size="42">2</text>
<text transform="translate(941.22,2161.4) scale(0.892,1)" text-anchor="middle" font-size="42" letter-spacing="1.5">2.5</text>
<text transform="translate(1085.84,2161.4) scale(0.892,1)" text-anchor="middle" font-size="42">3</text>
<text transform="translate(1231.8,2161.4) scale(0.892,1)" text-anchor="middle" font-size="42" letter-spacing="1.5">3.5</text>
<text transform="translate(1376.42,2161.4) scale(0.892,1)" text-anchor="middle" font-size="42">4</text>
<text transform="translate(1522.38,2161.4) scale(0.892,1)" text-anchor="middle" font-size="42" letter-spacing="1.5">4.5</text>
<text transform="translate(1667,2161.4) scale(0.892,1)" text-anchor="middle" font-size="42">5</text>
<text transform="translate(199.5,2120.4) scale(0.892,1)" text-anchor="end" font-size="42">0</text>
<text transform="translate(202.84,1912.75) scale(0.892,1)" text-anchor="end" font-size="42" letter-spacing="1.5">0.5</text>
<text transform="translate(200.5,1705.1) scale(0.892,1)" text-anchor="end" font-size="42" clip-path="url(#k1e)">1</text>
</g>
<circle cx="214.7" cy="1689" r="13.7" fill="none" stroke="#0072bd" stroke-width="9.5"/>
<circle cx="505.28" cy="1843.91" r="13.7" fill="none" stroke="#0072bd" stroke-width="9.5"/>
<circle cx="795.86" cy="2086.03" r="13.7" fill="none" stroke="#0072bd" stroke-width="9.5"/>
<circle cx="1086.44" cy="2086.03" r="13.7" fill="none" stroke="#0072bd" stroke-width="9.5"/>
<circle cx="1377.02" cy="2086.03" r="13.7" fill="none" stroke="#0072bd" stroke-width="9.5"/>
<circle cx="1667.6" cy="2083.54" r="13.7" fill="none" stroke="#0072bd" stroke-width="9.5"/>
<path clip-path="url(#c3)" d="M214.7,1689L217.61,1688.48L220.51,1688.02L223.42,1687.62L226.32,1687.27L229.23,1686.99L232.13,1686.75L235.04,1686.58L237.95,1686.45L240.85,1686.39L243.76,1686.37L246.66,1686.41L249.57,1686.51L252.48,1686.65L255.38,1686.85L258.29,1687.1L261.19,1687.4L264.1,1687.75L267,1688.15L269.91,1688.6L272.82,1689.1L275.72,1689.65L278.63,1690.24L281.53,1690.89L284.44,1691.58L287.34,1692.31L290.25,1693.1L293.16,1693.93L296.06,1694.8L298.97,1695.72L301.87,1696.68L304.78,1697.69L307.69,1698.74L310.59,1699.83L313.5,1700.96L316.4,1702.14L319.31,1703.36L322.21,1704.61L325.12,1705.91L328.03,1707.25L330.93,1708.62L333.84,1710.04L336.74,1711.49L339.65,1712.98L342.56,1714.51L345.46,1716.07L348.37,1717.67L351.27,1719.31L354.18,1720.98L357.08,1722.69L359.99,1724.43L362.9,1726.2L365.8,1728L368.71,1729.84L371.61,1731.72L374.52,1733.62L377.42,1735.55L380.33,1737.52L383.24,1739.51L386.14,1741.54L389.05,1743.59L391.95,1745.67L394.86,1747.78L397.77,1749.92L400.67,1752.08L403.58,1754.28L406.48,1756.49L409.39,1758.74L412.29,1761.01L415.2,1763.3L418.11,1765.62L421.01,1767.96L423.92,1770.32L426.82,1772.71L429.73,1775.12L432.63,1777.55L435.54,1780L438.45,1782.47L441.35,1784.97L444.26,1787.48L447.16,1790.01L450.07,1792.56L452.98,1795.13L455.88,1797.72L458.79,1800.32L461.69,1802.94L464.6,1805.58L467.5,1808.23L470.41,1810.9L473.32,1813.58L476.22,1816.27L479.13,1818.98L482.03,1821.71L484.94,1824.44L487.85,1827.19L490.75,1829.95L493.66,1832.72L496.56,1835.5L499.47,1838.29L502.37,1841.1L505.28,1843.91L508.19,1846.73L511.09,1849.55L514,1852.39L516.9,1855.23L519.81,1858.08L522.71,1860.94L525.62,1863.8L528.53,1866.66L531.43,1869.54L534.34,1872.41L537.24,1875.29L540.15,1878.17L543.06,1881.06L545.96,1883.95L548.87,1886.84L551.77,1889.73L554.68,1892.62L557.58,1895.51L560.49,1898.4L563.4,1901.29L566.3,1904.18L569.21,1907.07L572.11,1909.95L575.02,1912.84L577.92,1915.71L580.83,1918.59L583.74,1921.46L586.64,1924.33L589.55,1927.19L592.45,1930.05L595.36,1932.9L598.27,1935.74L601.17,1938.57L604.08,1941.4L606.98,1944.22L609.89,1947.03L612.79,1949.83L615.7,1952.63L618.61,1955.41L621.51,1958.18L624.42,1960.94L627.32,1963.69L630.23,1966.42L633.14,1969.15L636.04,1971.86L638.95,1974.55L641.85,1977.24L644.76,1979.9L647.66,1982.56L650.57,1985.19L653.48,1987.81L656.38,1990.42L659.29,1993L662.19,1995.57L665.1,1998.12L668,2000.66L670.91,2003.17L673.82,2005.66L676.72,2008.13L679.63,2010.59L682.53,2013.02L685.44,2015.43L688.35,2017.82L691.25,2020.18L694.16,2022.52L697.06,2024.84L699.97,2027.13L702.87,2029.4L705.78,2031.65L708.69,2033.87L711.59,2036.06L714.5,2038.22L717.4,2040.36L720.31,2042.47L723.21,2044.56L726.12,2046.61L729.03,2048.64L731.93,2050.63L734.84,2052.6L737.74,2054.53L740.65,2056.43L743.56,2058.31L746.46,2060.15L749.37,2061.95L752.27,2063.73L755.18,2065.47L758.08,2067.17L760.99,2068.85L763.9,2070.48L766.8,2072.08L769.71,2073.65L772.61,2075.18L775.52,2076.67L778.43,2078.12L781.33,2079.54L784.24,2080.91L787.14,2082.25L790.05,2083.55L792.95,2084.81L795.86,2086.03L798.77,2087.2L801.67,2088.34L804.58,2089.44L807.48,2090.49L810.39,2091.51L813.29,2092.49L816.2,2093.43L819.11,2094.33L822.01,2095.2L824.92,2096.03L827.82,2096.82L830.73,2097.58L833.64,2098.31L836.54,2099L839.45,2099.65L842.35,2100.27L845.26,2100.86L848.16,2101.42L851.07,2101.95L853.98,2102.44L856.88,2102.9L859.79,2103.34L862.69,2103.74L865.6,2104.11L868.5,2104.46L871.41,2104.77L874.32,2105.06L877.22,2105.32L880.13,2105.56L883.03,2105.77L885.94,2105.95L888.85,2106.11L891.75,2106.24L894.66,2106.35L897.56,2106.44L900.47,2106.5L903.37,2106.54L906.28,2106.56L909.19,2106.56L912.09,2106.53L915,2106.49L917.9,2106.42L920.81,2106.34L923.72,2106.23L926.62,2106.11L929.53,2105.97L932.43,2105.82L935.34,2105.64L938.24,2105.45L941.15,2105.24L944.06,2105.02L946.96,2104.79L949.87,2104.54L952.77,2104.27L955.68,2103.99L958.58,2103.7L961.49,2103.4L964.4,2103.08L967.3,2102.76L970.21,2102.42L973.11,2102.07L976.02,2101.72L978.93,2101.35L981.83,2100.97L984.74,2100.59L987.64,2100.2L990.55,2099.8L993.45,2099.4L996.36,2098.99L999.27,2098.57L1002.17,2098.15L1005.08,2097.72L1007.98,2097.29L1010.89,2096.86L1013.79,2096.42L1016.7,2095.98L1019.61,2095.54L1022.51,2095.1L1025.42,2094.66L1028.32,2094.21L1031.23,2093.77L1034.14,2093.33L1037.04,2092.88L1039.95,2092.44L1042.85,2092L1045.76,2091.57L1048.66,2091.14L1051.57,2090.71L1054.48,2090.28L1057.38,2089.86L1060.29,2089.45L1063.19,2089.04L1066.1,2088.63L1069.01,2088.24L1071.91,2087.85L1074.82,2087.47L1077.72,2087.09L1080.63,2086.73L1083.53,2086.37L1086.44,2086.03L1089.35,2085.69L1092.25,2085.37L1095.16,2085.05L1098.06,2084.75L1100.97,2084.45L1103.87,2084.17L1106.78,2083.89L1109.69,2083.63L1112.59,2083.37L1115.5,2083.12L1118.4,2082.89L1121.31,2082.66L1124.22,2082.44L1127.12,2082.23L1130.03,2082.03L1132.93,2081.83L1135.84,2081.65L1138.74,2081.47L1141.65,2081.31L1144.56,2081.15L1147.46,2081L1150.37,2080.85L1153.27,2080.72L1156.18,2080.59L1159.08,2080.47L1161.99,2080.36L1164.9,2080.26L1167.8,2080.16L1170.71,2080.07L1173.61,2079.99L1176.52,2079.92L1179.43,2079.85L1182.33,2079.79L1185.24,2079.74L1188.14,2079.69L1191.05,2079.65L1193.95,2079.62L1196.86,2079.59L1199.77,2079.57L1202.67,2079.55L1205.58,2079.54L1208.48,2079.54L1211.39,2079.55L1214.3,2079.55L1217.2,2079.57L1220.11,2079.59L1223.01,2079.62L1225.92,2079.65L1228.82,2079.68L1231.73,2079.72L1234.64,2079.77L1237.54,2079.82L1240.45,2079.88L1243.35,2079.94L1246.26,2080.01L1249.16,2080.08L1252.07,2080.15L1254.98,2080.23L1257.88,2080.31L1260.79,2080.4L1263.69,2080.49L1266.6,2080.59L1269.51,2080.69L1272.41,2080.79L1275.32,2080.89L1278.22,2081L1281.13,2081.12L1284.03,2081.23L1286.94,2081.35L1289.85,2081.47L1292.75,2081.6L1295.66,2081.73L1298.56,2081.86L1301.47,2081.99L1304.37,2082.13L1307.28,2082.27L1310.19,2082.41L1313.09,2082.55L1316,2082.69L1318.9,2082.84L1321.81,2082.99L1324.72,2083.14L1327.62,2083.29L1330.53,2083.44L1333.43,2083.6L1336.34,2083.76L1339.24,2083.91L1342.15,2084.07L1345.06,2084.23L1347.96,2084.39L1350.87,2084.55L1353.77,2084.72L1356.68,2084.88L1359.59,2085.04L1362.49,2085.21L1365.4,2085.37L1368.3,2085.53L1371.21,2085.7L1374.11,2085.86L1377.02,2086.03L1379.93,2086.19L1382.83,2086.35L1385.74,2086.52L1388.64,2086.68L1391.55,2086.84L1394.45,2087L1397.36,2087.16L1400.27,2087.32L1403.17,2087.48L1406.08,2087.64L1408.98,2087.79L1411.89,2087.95L1414.8,2088.1L1417.7,2088.25L1420.61,2088.4L1423.51,2088.55L1426.42,2088.69L1429.32,2088.83L1432.23,2088.98L1435.14,2089.11L1438.04,2089.25L1440.95,2089.38L1443.85,2089.52L1446.76,2089.64L1449.66,2089.77L1452.57,2089.89L1455.48,2090.01L1458.38,2090.13L1461.29,2090.25L1464.19,2090.36L1467.1,2090.46L1470.01,2090.57L1472.91,2090.67L1475.82,2090.76L1478.72,2090.85L1481.63,2090.94L1484.53,2091.03L1487.44,2091.11L1490.35,2091.18L1493.25,2091.25L1496.16,2091.32L1499.06,2091.38L1501.97,2091.44L1504.88,2091.5L1507.78,2091.54L1510.69,2091.59L1513.59,2091.62L1516.5,2091.66L1519.4,2091.68L1522.31,2091.71L1525.22,2091.72L1528.12,2091.73L1531.03,2091.74L1533.93,2091.74L1536.84,2091.73L1539.74,2091.72L1542.65,2091.7L1545.56,2091.67L1548.46,2091.64L1551.37,2091.6L1554.27,2091.56L1557.18,2091.51L1560.09,2091.45L1562.99,2091.38L1565.9,2091.31L1568.8,2091.23L1571.71,2091.14L1574.61,2091.05L1577.52,2090.95L1580.43,2090.84L1583.33,2090.72L1586.24,2090.6L1589.14,2090.47L1592.05,2090.33L1594.95,2090.18L1597.86,2090.02L1600.77,2089.86L1603.67,2089.68L1606.58,2089.5L1609.48,2089.31L1612.39,2089.11L1615.3,2088.91L1618.2,2088.69L1621.11,2088.46L1624.01,2088.23L1626.92,2087.98L1629.82,2087.73L1632.73,2087.47L1635.64,2087.19L1638.54,2086.91L1641.45,2086.62L1644.35,2086.32L1647.26,2086.01L1650.17,2085.68L1653.07,2085.35L1655.98,2085.01L1658.88,2084.66L1661.79,2084.29L1664.69,2083.92L1667.6,2083.54" fill="none" stroke="#000" stroke-width="10" stroke-linejoin="round"/>
<path clip-path="url(#c3)" d="M214.7,1689L217.61,1689.02L220.51,1689.1L223.42,1689.22L226.32,1689.38L229.23,1689.58L232.13,1689.83L235.04,1690.11L237.95,1690.42L240.85,1690.78L243.76,1691.16L246.66,1691.57L249.57,1692.01L252.48,1692.48L255.38,1692.97L258.29,1693.49L261.19,1694.02L264.1,1694.57L267,1695.14L269.91,1695.72L272.82,1696.31L275.72,1696.91L278.63,1697.52L281.53,1698.14L284.44,1698.76L287.34,1699.38L290.25,1700.04L293.16,1700.78L296.06,1701.58L298.97,1702.45L301.87,1703.39L304.78,1704.38L307.69,1705.44L310.59,1706.54L313.5,1707.7L316.4,1708.91L319.31,1710.16L322.21,1711.45L325.12,1712.78L328.03,1714.14L330.93,1715.54L333.84,1716.97L336.74,1718.41L339.65,1719.89L342.56,1721.38L345.46,1722.88L348.37,1724.4L351.27,1725.93L354.18,1727.46L357.08,1729L359.99,1730.53L362.9,1732.09L365.8,1733.71L368.71,1735.37L371.61,1737.09L374.52,1738.85L377.42,1740.65L380.33,1742.5L383.24,1744.39L386.14,1746.32L389.05,1748.28L391.95,1750.27L394.86,1752.3L397.77,1754.35L400.67,1756.43L403.58,1758.53L406.48,1760.65L409.39,1762.8L412.29,1764.96L415.2,1767.13L418.11,1769.32L421.01,1771.52L423.92,1773.73L426.82,1775.94L429.73,1778.15L432.63,1780.37L435.54,1782.6L438.45,1784.86L441.35,1787.15L444.26,1789.47L447.16,1791.81L450.07,1794.19L452.98,1796.58L455.88,1799.01L458.79,1801.45L461.69,1803.91L464.6,1806.4L467.5,1808.9L470.41,1811.42L473.32,1813.96L476.22,1816.52L479.13,1819.09L482.03,1821.67L484.94,1824.26L487.85,1826.87L490.75,1829.48L493.66,1832.11L496.56,1834.74L499.47,1837.37L502.37,1840.02L505.28,1842.66L508.19,1845.32L511.09,1848.01L514,1850.72L516.9,1853.46L519.81,1856.22L522.71,1858.99L525.62,1861.79L528.53,1864.6L531.43,1867.43L534.34,1870.27L537.24,1873.12L540.15,1875.98L543.06,1878.84L545.96,1881.72L548.87,1884.6L551.77,1887.48L554.68,1890.36L557.58,1893.24L560.49,1896.12L563.4,1899L566.3,1901.87L569.21,1904.73L572.11,1907.59L575.02,1910.43L577.92,1913.26L580.83,1916.1L583.74,1918.95L586.64,1921.82L589.55,1924.71L592.45,1927.6L595.36,1930.51L598.27,1933.42L601.17,1936.33L604.08,1939.25L606.98,1942.16L609.89,1945.07L612.79,1947.97L615.7,1950.86L618.61,1953.74L621.51,1956.61L624.42,1959.45L627.32,1962.28L630.23,1965.09L633.14,1967.87L636.04,1970.62L638.95,1973.34L641.85,1976.03L644.76,1978.68L647.66,1981.29L650.57,1983.86L653.48,1986.42L656.38,1989L659.29,1991.6L662.19,1994.2L665.1,1996.81L668,1999.41L670.91,2002.01L673.82,2004.59L676.72,2007.16L679.63,2009.71L682.53,2012.24L685.44,2014.73L688.35,2017.18L691.25,2019.6L694.16,2021.96L697.06,2024.28L699.97,2026.54L702.87,2028.74L705.78,2030.87L708.69,2032.93L711.59,2034.92L714.5,2036.83L717.4,2038.64L720.31,2040.37L723.21,2042.01L726.12,2043.6L729.03,2045.21L731.93,2046.82L734.84,2048.42L737.74,2049.99L740.65,2051.51L743.56,2052.98L746.46,2054.36L749.37,2055.66L752.27,2056.85L755.18,2057.92L758.08,2058.86L760.99,2059.64L763.9,2060.26L766.8,2060.69L769.71,2061.03L772.61,2061.34L775.52,2061.64L778.43,2061.91L781.33,2062.16L784.24,2062.37L787.14,2062.54L790.05,2062.66L792.95,2062.74L795.86,2062.77L798.77,2062.77L801.67,2062.75L804.58,2062.73L807.48,2062.69L810.39,2062.65L813.29,2062.6L816.2,2062.55L819.11,2062.48L822.01,2062.41L824.92,2062.33L827.82,2062.24L830.73,2062.15L833.64,2062.05L836.54,2061.94L839.45,2061.83L842.35,2061.72L845.26,2061.59L848.16,2061.47L851.07,2061.34L853.98,2061.2L856.88,2061.06L859.79,2060.92L862.69,2060.77L865.6,2060.62L868.5,2060.47L871.41,2060.31L874.32,2060.15L877.22,2059.99L880.13,2059.83L883.03,2059.67L885.94,2059.5L888.85,2059.34L891.75,2059.17L894.66,2059.01L897.56,2058.84L900.47,2058.67L903.37,2058.51L906.28,2058.34L909.19,2058.18L912.09,2058.02L915,2057.86L917.9,2057.7L920.81,2057.54L923.72,2057.39L926.62,2057.24L929.53,2057.09L932.43,2056.95L935.34,2056.81L938.24,2056.67L941.15,2056.54L944.06,2056.41L946.96,2056.27L949.87,2056.12L952.77,2055.97L955.68,2055.81L958.58,2055.65L961.49,2055.48L964.4,2055.31L967.3,2055.14L970.21,2054.97L973.11,2054.79L976.02,2054.61L978.93,2054.43L981.83,2054.25L984.74,2054.07L987.64,2053.89L990.55,2053.71L993.45,2053.54L996.36,2053.36L999.27,2053.19L1002.17,2053.02L1005.08,2052.86L1007.98,2052.7L1010.89,2052.54L1013.79,2052.39L1016.7,2052.25L1019.61,2052.11L1022.51,2051.98L1025.42,2051.86L1028.32,2051.74L1031.23,2051.63L1034.14,2051.54L1037.04,2051.45L1039.95,2051.37L1042.85,2051.3L1045.76,2051.25L1048.66,2051.2L1051.57,2051.17L1054.48,2051.15L1057.38,2051.14L1060.29,2051.15L1063.19,2051.18L1066.1,2051.23L1069.01,2051.3L1071.91,2051.39L1074.82,2051.49L1077.72,2051.61L1080.63,2051.75L1083.53,2051.9L1086.44,2052.06L1089.35,2052.23L1092.25,2052.41L1095.16,2052.61L1098.06,2052.81L1100.97,2053.02L1103.87,2053.24L1106.78,2053.47L1109.69,2053.7L1112.59,2053.93L1115.5,2054.17L1118.4,2054.41L1121.31,2054.66L1124.22,2054.9L1127.12,2055.14L1130.03,2055.38L1132.93,2055.62L1135.84,2055.86L1138.74,2056.09L1141.65,2056.32L1144.56,2056.54L1147.46,2056.76L1150.37,2056.99L1153.27,2057.23L1156.18,2057.47L1159.08,2057.72L1161.99,2057.97L1164.9,2058.23L1167.8,2058.49L1170.71,2058.76L1173.61,2059.03L1176.52,2059.31L1179.43,2059.59L1182.33,2059.87L1185.24,2060.16L1188.14,2060.45L1191.05,2060.74L1193.95,2061.03L1196.86,2061.33L1199.77,2061.62L1202.67,2061.92L1205.58,2062.22L1208.48,2062.51L1211.39,2062.81L1214.3,2063.11L1217.2,2063.4L1220.11,2063.69L1223.01,2063.99L1225.92,2064.27L1228.82,2064.56L1231.73,2064.85L1234.64,2065.13L1237.54,2065.43L1240.45,2065.73L1243.35,2066.03L1246.26,2066.34L1249.16,2066.66L1252.07,2066.98L1254.98,2067.3L1257.88,2067.63L1260.79,2067.96L1263.69,2068.3L1266.6,2068.64L1269.51,2068.98L1272.41,2069.32L1275.32,2069.66L1278.22,2070L1281.13,2070.35L1284.03,2070.69L1286.94,2071.04L1289.85,2071.38L1292.75,2071.72L1295.66,2072.06L1298.56,2072.4L1301.47,2072.74L1304.37,2073.08L1307.28,2073.41L1310.19,2073.74L1313.09,2074.06L1316,2074.38L1318.9,2074.69L1321.81,2075L1324.72,2075.31L1327.62,2075.61L1330.53,2075.9L1333.43,2076.18L1336.34,2076.46L1339.24,2076.73L1342.15,2077L1345.06,2077.25L1347.96,2077.5L1350.87,2077.73L1353.77,2077.96L1356.68,2078.18L1359.59,2078.38L1362.49,2078.58L1365.4,2078.76L1368.3,2078.94L1371.21,2079.1L1374.11,2079.25L1377.02,2079.38L1379.93,2079.51L1382.83,2079.64L1385.74,2079.77L1388.64,2079.89L1391.55,2080.02L1394.45,2080.15L1397.36,2080.27L1400.27,2080.4L1403.17,2080.52L1406.08,2080.64L1408.98,2080.76L1411.89,2080.88L1414.8,2081L1417.7,2081.11L1420.61,2081.23L1423.51,2081.34L1426.42,2081.45L1429.32,2081.56L1432.23,2081.67L1435.14,2081.77L1438.04,2081.88L1440.95,2081.98L1443.85,2082.08L1446.76,2082.17L1449.66,2082.27L1452.57,2082.36L1455.48,2082.45L1458.38,2082.53L1461.29,2082.61L1464.19,2082.69L1467.1,2082.77L1470.01,2082.84L1472.91,2082.91L1475.82,2082.98L1478.72,2083.04L1481.63,2083.11L1484.53,2083.16L1487.44,2083.21L1490.35,2083.26L1493.25,2083.31L1496.16,2083.35L1499.06,2083.39L1501.97,2083.42L1504.88,2083.45L1507.78,2083.48L1510.69,2083.5L1513.59,2083.51L1516.5,2083.53L1519.4,2083.53L1522.31,2083.54L1525.22,2083.54L1528.12,2083.54L1531.03,2083.54L1533.93,2083.54L1536.84,2083.54L1539.74,2083.54L1542.65,2083.54L1545.56,2083.54L1548.46,2083.54L1551.37,2083.54L1554.27,2083.54L1557.18,2083.54L1560.09,2083.54L1562.99,2083.54L1565.9,2083.54L1568.8,2083.54L1571.71,2083.54L1574.61,2083.54L1577.52,2083.54L1580.43,2083.54L1583.33,2083.54L1586.24,2083.54L1589.14,2083.54L1592.05,2083.54L1594.95,2083.54L1597.86,2083.54L1600.77,2083.54L1603.67,2083.54L1606.58,2083.54L1609.48,2083.54L1612.39,2083.54L1615.3,2083.54L1618.2,2083.54L1621.11,2083.54L1624.01,2083.54L1626.92,2083.54L1629.82,2083.54L1632.73,2083.54L1635.64,2083.54L1638.54,2083.54L1641.45,2083.54L1644.35,2083.54L1647.26,2083.54L1650.17,2083.54L1653.07,2083.54L1655.98,2083.54L1658.88,2083.54L1661.79,2083.54L1664.69,2083.54L1667.6,2083.54" fill="none" stroke="#f00" stroke-width="9.8" stroke-linejoin="round" stroke-dasharray="33 31"/>
<rect x="1189.1" y="1713.5" width="443.5" height="154.6" fill="#fff" stroke="#262626" stroke-width="3"/>
<g font-family='"Liberation Sans", sans-serif' fill="#000" font-size="37">
<circle cx="1268.5" cy="1742.9" r="12.9" fill="none" stroke="#0072bd" stroke-width="9.9"/>
<text transform="translate(1346.3,1756.5) scale(0.975,1)">Measured data</text>
<path d="M1201.3,1790.5H1335.8" stroke="#000" stroke-width="10" fill="none"/>
<text transform="translate(1346.3,1804.6) scale(0.975,1)">Interpolated data</text>
<path d="M1201.3,1838.5H1335.8" stroke="#f00" stroke-width="9.8" stroke-dasharray="33 31" fill="none"/>
<text transform="translate(1346.3,1852.9) scale(0.975,1)">Estimated model</text>
</g>
<g font-family='"Liberation Serif", serif' fill="#000" stroke="#000" stroke-width="0.7">
<text transform="translate(673.91,1652.7) scale(1.0353,1)" font-size="71.5">Catalityc</text>
<text transform="translate(962.82,1652.7) scale(1.0094,1)" font-size="71.5" font-style="italic">O</text>
<text transform="translate(1014.4,1662.1) scale(1.0238,1)" font-size="48">3</text>
<text transform="translate(1066.89,1652.7) scale(1.0058,1)" font-size="71.5">(NP)</text>
</g>
<g font-family='"Liberation Serif", serif' fill="#262626" stroke="#262626" stroke-width="0.7">
<text transform="translate(784.04,2231) scale(1.0605,1)" font-size="69">time</text>
<text transform="translate(939.77,2231) scale(1.0168,1)" font-size="69">(min)</text>
</g>
<g font-family='"Liberation Serif", serif' fill="#262626" stroke="#262626" stroke-width="0.6" font-style="italic" transform="translate(90.6,1896.25) rotate(-90)">
<rect x="-26.5" y="-1.45" width="53.4" height="2.9" stroke="none"/>
<text x="-18.8" y="-9" font-size="55">C</text>
<text x="-27.2" y="40.7" font-size="55">C</text>
<text x="6" y="48" font-size="37" font-style="normal">0</text>
</g>
<clipPath id="c4"><rect x="208.7" y="2346.4" width="1464.9" height="432"/></clipPath>
<path d="M359.99,2352.4V2772.4M505.28,2352.4V2772.4M650.57,2352.4V2772.4M795.86,2352.4V2772.4M941.15,2352.4V2772.4M1086.44,2352.4V2772.4M1231.73,2352.4V2772.4M1377.02,2352.4V2772.4M1522.31,2352.4V2772.4M214.7,2680.35H1667.6M214.7,2588.3H1667.6M214.7,2496.25H1667.6M214.7,2404.2H1667.6" stroke="#dfdfdf" stroke-width="3" fill="none"/>
<path d="M212.85,2352.4H1669.45M212.85,2772.4H1669.45" stroke="#262626" stroke-width="4" fill="none"/>
<path d="M214.7,2352.4V2772.4M1667.6,2352.4V2772.4" stroke="#262626" stroke-width="3.7" fill="none"/>
<path d="M359.99,2772.4v-16.5M359.99,2352.4v16.5M505.28,2772.4v-16.5M505.28,2352.4v16.5M650.57,2772.4v-16.5M650.57,2352.4v16.5M795.86,2772.4v-16.5M795.86,2352.4v16.5M941.15,2772.4v-16.5M941.15,2352.4v16.5M1086.44,2772.4v-16.5M1086.44,2352.4v16.5M1231.73,2772.4v-16.5M1231.73,2352.4v16.5M1377.02,2772.4v-16.5M1377.02,2352.4v16.5M1522.31,2772.4v-16.5M1522.31,2352.4v16.5M214.7,2680.35h16.5M1667.6,2680.35h-16.5M214.7,2588.3h16.5M1667.6,2588.3h-16.5M214.7,2496.25h16.5M1667.6,2496.25h-16.5M214.7,2404.2h16.5M1667.6,2404.2h-16.5" stroke="#262626" stroke-width="3" fill="none"/>
<g font-family='"Liberation Sans", sans-serif' fill="#262626">
<text transform="translate(214.1,2827.8) scale(0.892,1)" text-anchor="middle" font-size="42">0</text>
<text transform="translate(360.06,2827.8) scale(0.892,1)" text-anchor="middle" font-size="42" letter-spacing="1.5">0.5</text>
<text transform="translate(504.68,2827.8) scale(0.892,1)" text-anchor="middle" font-size="42" clip-path="url(#k1m)">1</text>
<text transform="translate(650.64,2827.8) scale(0.892,1)" text-anchor="middle" font-size="42" letter-spacing="1.5" clip-path="url(#k15)">1.5</text>
<text transform="translate(795.26,2827.8) scale(0.892,1)" text-anchor="middle" font-size="42">2</text>
<text transform="translate(941.22,2827.8) scale(0.892,1)" text-anchor="middle" font-size="42" letter-spacing="1.5">2.5</text>
<text transform="translate(1085.84,2827.8) scale(0.892,1)" text-anchor="middle" font-size="42">3</text>
<text transform="translate(1231.8,2827.8) scale(0.892,1)" text-anchor="middle" font-size="42" letter-spacing="1.5">3.5</text>
<text transform="translate(1376.42,2827.8) scale(0.892,1)" text-anchor="middle" font-size="42">4</text>
<text transform="translate(1522.38,2827.8) scale(0.892,1)" text-anchor="middle" font-size="42" letter-spacing="1.5">4.5</text>
<text transform="translate(1667,2827.8) scale(0.892,1)" text-anchor="middle" font-size="42">5</text>
<text transform="translate(201.84,2788.5) scale(0.892,1)" text-anchor="end" font-size="42" letter-spacing="1.5" clip-path="url(#k1n)">-1</text>
<text transform="translate(202.84,2696.45) scale(0.892,1)" text-anchor="end" font-size="42" letter-spacing="1.5">-0.5</text>
<text transform="translate(199.5,2604.4) scale(0.892,1)" text-anchor="end" font-size="42">0</text>
<text transform="translate(202.84,2512.35) scale(0.892,1)" text-anchor="end" font-size="42" letter-spacing="1.5">0.5</text>
<text transform="translate(200.5,2420.3) scale(0.892,1)" text-anchor="end" font-size="42" clip-path="url(#k1e)">1</text>
</g>
<circle cx="1665.1" cy="2571.31" r="4.7" fill="#00f"/>
<path clip-path="url(#c4)" d="M214.7,2588.3L246.95,2352.39L282.99,2618.92L284.44,2619.95L287.34,2622.01L290.25,2624.04L293.16,2626.05L296.06,2628.04L298.97,2630L301.87,2631.94L304.78,2633.86L307.69,2635.76L310.59,2637.64L313.5,2639.49L316.4,2641.33L319.31,2643.14L322.21,2644.93L325.12,2646.69L328.03,2648.44L330.93,2650.16L333.84,2651.86L336.74,2653.54L339.65,2655.19L342.56,2656.83L345.46,2658.44L348.37,2660.03L351.27,2661.6L354.18,2663.14L357.08,2664.67L359.99,2666.17L362.9,2667.65L365.8,2669.1L368.71,2670.54L371.61,2671.95L374.52,2673.34L377.42,2674.71L380.33,2676.06L383.24,2677.39L386.14,2678.69L389.05,2679.97L391.95,2681.23L394.86,2682.46L397.77,2683.68L400.67,2684.87L403.58,2686.04L406.48,2687.19L409.39,2688.32L412.29,2689.42L415.2,2690.5L418.11,2691.56L421.01,2692.6L423.92,2693.62L426.82,2694.61L429.73,2695.58L432.63,2696.53L435.54,2697.46L438.45,2698.36L441.35,2699.25L444.26,2700.11L447.16,2700.95L450.07,2701.76L452.98,2702.56L455.88,2703.33L458.79,2704.08L461.69,2704.81L464.6,2705.52L467.5,2706.2L470.41,2706.87L473.32,2707.51L476.22,2708.13L479.13,2708.72L482.03,2709.3L484.94,2709.85L487.85,2710.38L490.75,2710.89L493.66,2711.37L496.56,2711.84L499.47,2712.28L502.37,2712.7L505.28,2713.1L508.19,2713.47L511.09,2713.82L514,2714.16L516.9,2714.47L519.81,2714.75L522.71,2715.02L525.62,2715.26L528.53,2715.48L531.43,2715.68L534.34,2715.86L537.24,2716.01L540.15,2716.15L543.06,2716.26L545.96,2716.34L548.87,2716.41L551.77,2716.46L554.68,2716.48L557.58,2716.48L560.49,2716.46L563.4,2716.41L566.3,2716.35L569.21,2716.26L572.11,2716.15L575.02,2716.02L577.92,2715.86L580.83,2715.68L583.74,2715.49L586.64,2715.27L589.55,2715.02L592.45,2714.76L595.36,2714.47L598.27,2714.16L601.17,2713.83L604.08,2713.48L606.98,2713.1L609.89,2712.71L612.79,2712.29L615.7,2711.85L618.61,2711.38L621.51,2710.9L624.42,2710.39L627.32,2709.86L630.23,2709.31L633.14,2708.74L636.04,2708.14L638.95,2707.52L641.85,2706.88L644.76,2706.22L647.66,2705.54L650.57,2704.83L653.48,2704.1L656.38,2703.35L659.29,2702.58L662.19,2701.78L665.1,2700.97L668,2700.13L670.91,2699.27L673.82,2698.38L676.72,2697.48L679.63,2696.55L682.53,2695.6L685.44,2694.63L688.35,2693.64L691.25,2692.62L694.16,2691.59L697.06,2690.53L699.97,2689.45L702.87,2688.34L705.78,2687.22L708.69,2686.07L711.59,2684.9L714.5,2683.71L717.4,2682.49L720.31,2681.26L723.21,2680L726.12,2678.72L729.03,2677.42L731.93,2676.09L734.84,2674.75L737.74,2673.38L740.65,2671.99L743.56,2670.57L746.46,2669.14L749.37,2667.68L752.27,2666.2L755.18,2664.7L758.08,2663.18L760.99,2661.63L763.9,2660.07L766.8,2658.48L769.71,2656.87L772.61,2655.23L775.52,2653.58L778.43,2651.9L781.33,2650.2L784.24,2648.48L787.14,2646.73L790.05,2644.97L792.95,2643.18L795.86,2641.37L798.77,2639.56L801.67,2637.77L804.58,2636.01L807.48,2634.27L810.39,2632.55L813.29,2630.85L816.2,2629.18L819.11,2627.53L822.01,2625.9L824.92,2624.3L827.82,2622.72L830.73,2621.16L833.64,2619.62L836.54,2618.11L839.45,2616.62L842.35,2615.15L845.26,2613.7L848.16,2612.28L851.07,2610.88L853.98,2609.51L856.88,2608.15L859.79,2606.82L862.69,2605.51L865.6,2604.23L868.5,2602.96L871.41,2601.72L874.32,2600.51L877.22,2599.31L880.13,2598.14L883.03,2596.99L885.94,2595.87L888.85,2594.76L891.75,2593.68L894.66,2592.63L897.56,2591.59L900.47,2590.58L903.37,2589.59L906.28,2588.62L909.19,2587.68L912.09,2586.76L915,2585.86L917.9,2584.99L920.81,2584.13L923.72,2583.3L926.62,2582.5L929.53,2581.71L932.43,2580.95L935.34,2580.21L938.24,2579.5L941.15,2578.8L944.06,2578.13L946.96,2577.49L949.87,2576.86L952.77,2576.26L955.68,2575.68L958.58,2575.12L961.49,2574.59L964.4,2574.08L967.3,2573.59L970.21,2573.13L973.11,2572.69L976.02,2572.27L978.93,2571.87L981.83,2571.5L984.74,2571.14L987.64,2570.82L990.55,2570.51L993.45,2570.23L996.36,2569.97L999.27,2569.73L1002.17,2569.52L1005.08,2569.33L1007.98,2569.16L1010.89,2569.01L1013.79,2568.89L1016.7,2568.79L1019.61,2568.71L1022.51,2568.65L1025.42,2568.62L1028.32,2568.61L1031.23,2568.63L1034.14,2568.66L1037.04,2568.72L1039.95,2568.8L1042.85,2568.91L1045.76,2569.04L1048.66,2569.19L1051.57,2569.36L1054.48,2569.56L1057.38,2569.78L1060.29,2570.02L1063.19,2570.28L1066.1,2570.57L1069.01,2570.88L1071.91,2571.21L1074.82,2571.57L1077.72,2571.94L1080.63,2572.35L1083.53,2572.77L1086.44,2573.22L1089.35,2573.67L1092.25,2574.12L1095.16,2574.57L1098.06,2575.01L1100.97,2575.45L1103.87,2575.88L1106.78,2576.31L1109.69,2576.73L1112.59,2577.15L1115.5,2577.56L1118.4,2577.97L1121.31,2578.37L1124.22,2578.77L1127.12,2579.17L1130.03,2579.56L1132.93,2579.94L1135.84,2580.32L1138.74,2580.7L1141.65,2581.07L1144.56,2581.44L1147.46,2581.8L1150.37,2582.16L1153.27,2582.51L1156.18,2582.86L1159.08,2583.2L1161.99,2583.54L1164.9,2583.87L1167.8,2584.2L1170.71,2584.53L1173.61,2584.85L1176.52,2585.16L1179.43,2585.47L1182.33,2585.78L1185.24,2586.08L1188.14,2586.37L1191.05,2586.67L1193.95,2586.95L1196.86,2587.23L1199.77,2587.51L1202.67,2587.79L1205.58,2588.05L1208.48,2588.32L1211.39,2588.58L1214.3,2588.83L1217.2,2589.08L1220.11,2589.32L1223.01,2589.56L1225.92,2589.8L1228.82,2590.03L1231.73,2590.25L1234.64,2590.48L1237.54,2590.69L1240.45,2590.9L1243.35,2591.11L1246.26,2591.31L1249.16,2591.51L1252.07,2591.7L1254.98,2591.89L1257.88,2592.08L1260.79,2592.25L1263.69,2592.43L1266.6,2592.6L1269.51,2592.76L1272.41,2592.92L1275.32,2593.08L1278.22,2593.23L1281.13,2593.38L1284.03,2593.52L1286.94,2593.65L1289.85,2593.79L1292.75,2593.91L1295.66,2594.04L1298.56,2594.15L1301.47,2594.27L1304.37,2594.38L1307.28,2594.48L1310.19,2594.58L1313.09,2594.67L1316,2594.76L1318.9,2594.85L1321.81,2594.93L1324.72,2595L1327.62,2595.08L1330.53,2595.14L1333.43,2595.2L1336.34,2595.26L1339.24,2595.31L1342.15,2595.36L1345.06,2595.4L1347.96,2595.44L1350.87,2595.48L1353.77,2595.5L1356.68,2595.53L1359.59,2595.55L1362.49,2595.56L1365.4,2595.57L1368.3,2595.58L1371.21,2595.58L1374.11,2595.57L1377.02,2595.57L1379.93,2595.55L1382.83,2595.53L1385.74,2595.51L1388.64,2595.48L1391.55,2595.45L1394.45,2595.42L1397.36,2595.37L1400.27,2595.33L1403.17,2595.28L1406.08,2595.22L1408.98,2595.16L1411.89,2595.1L1414.8,2595.03L1417.7,2594.95L1420.61,2594.87L1423.51,2594.79L1426.42,2594.7L1429.32,2594.61L1432.23,2594.51L1435.14,2594.41L1438.04,2594.3L1440.95,2594.19L1443.85,2594.07L1446.76,2593.95L1449.66,2593.82L1452.57,2593.69L1455.48,2593.56L1458.38,2593.42L1461.29,2593.27L1464.19,2593.12L1467.1,2592.97L1470.01,2592.81L1472.91,2592.65L1475.82,2592.48L1478.72,2592.31L1481.63,2592.13L1484.53,2591.95L1487.44,2591.76L1490.35,2591.57L1493.25,2591.37L1496.16,2591.17L1499.06,2590.96L1501.97,2590.75L1504.88,2590.54L1507.78,2590.32L1510.69,2590.09L1513.59,2589.87L1516.5,2589.63L1519.4,2589.39L1522.31,2589.15L1525.22,2588.9L1528.12,2588.65L1531.03,2588.39L1533.93,2588.13L1536.84,2587.86L1539.74,2587.59L1542.65,2587.32L1545.56,2587.04L1548.46,2586.75L1551.37,2586.46L1554.27,2586.16L1557.18,2585.87L1560.09,2585.56L1562.99,2585.25L1565.9,2584.94L1568.8,2584.62L1571.71,2584.3L1574.61,2583.97L1577.52,2583.64L1580.43,2583.3L1583.33,2582.96L1586.24,2582.61L1589.14,2582.26L1592.05,2581.9L1594.95,2581.54L1597.86,2581.18L1600.77,2580.81L1603.67,2580.43L1606.58,2580.06L1609.48,2579.67L1612.39,2579.28L1615.3,2578.89L1618.2,2578.49L1621.11,2578.09L1624.01,2577.68L1626.92,2577.27L1629.82,2576.85L1632.73,2576.43L1635.64,2576L1638.54,2575.57L1641.45,2575.14L1644.35,2574.7L1647.26,2574.25L1650.17,2573.8L1653.07,2573.35L1655.98,2572.89L1658.88,2572.43L1661.79,2571.96L1664.69,2571.48L1667.6,2571.01" fill="none" stroke="#00f" stroke-width="10" stroke-linejoin="round"/>
<circle cx="566.3" cy="2715.33" r="13.4" fill="none" stroke="#d95319" stroke-width="14.5"/>
<rect x="1089.5" y="2379.1" width="542.3" height="106.8" fill="#fff" stroke="#262626" stroke-width="3"/>
<g font-family='"Liberation Sans", sans-serif' fill="#000" font-size="37">
<path d="M1101.9,2409.2H1237.1" stroke="#00f" stroke-width="10" fill="none"/>
<text transform="translate(1246.9,2423) scale(0.975,1)">Estimated reaction rate</text>
<circle cx="1169.4" cy="2456.2" r="13.4" fill="none" stroke="#d95319" stroke-width="14.5"/>
<text transform="translate(1246.9,2472.3) scale(0.975,1)">Maximum Rate</text>
</g>
<g font-family='"Liberation Serif", serif' fill="#000" stroke="#000" stroke-width="0.7">
<text transform="translate(403.16,2318.6) scale(1.0140,1)" font-size="71.5">Reaction</text>
<text transform="translate(683.58,2318.6) scale(0.9530,1)" font-size="71.5">Velocity</text>
<text transform="translate(942.71,2318.6) scale(1.0361,1)" font-size="71.5">Catalityc</text>
<text transform="translate(1231.82,2318.6) scale(1.0094,1)" font-size="71.5" font-style="italic">O</text>
<text transform="translate(1283.4,2328) scale(1.0238,1)" font-size="48">3</text>
<text transform="translate(1335.89,2318.6) scale(1.0058,1)" font-size="71.5">(NP)</text>
</g>
<g font-family='"Liberation Serif", serif' fill="#262626" stroke="#262626" stroke-width="0.7">
<text transform="translate(784.04,2897.4) scale(1.0605,1)" font-size="69">time</text>
<text transform="translate(939.77,2897.4) scale(1.0168,1)" font-size="69">(min)</text>
</g>
<g font-family='"Liberation Serif", serif' fill="#262626" stroke="#262626" stroke-width="0.6" font-style="italic" transform="translate(76.9,2562.4) rotate(-90)">
<rect x="-55.75" y="-1.45" width="41.4" height="2.9" stroke="none"/>
<text x="-47.45" y="-9" font-size="51">d</text>
<text x="-56.35" y="40.7" font-size="51">dt</text>
<rect x="1.25" y="-1.45" width="53.4" height="2.9" stroke="none"/>
<text x="8.95" y="-9" font-size="55">C</text>
<text x="0.55" y="40.7" font-size="55">C</text>
<text x="33.75" y="48" font-size="37" font-style="normal">0</text>
</g>
<g font-family='"Liberation Serif", serif' fill="#000" stroke="#000" stroke-width="0.5">
<text transform="translate(811.65,3038.2) scale(0.9489,1)" font-size="75.5">(</text>
<text transform="translate(835.09,3038.2) scale(1.0561,1)" font-size="75.5" font-weight="bold">b</text>
<text transform="translate(879.74,3038.2) scale(0.9283,1)" font-size="75.5">)</text>
</g>
<clipPath id="c5"><rect x="198.5" y="3228.7" width="1464.5" height="463.5"/></clipPath>
<path d="M349.75,3234.7V3686.2M495,3234.7V3686.2M640.25,3234.7V3686.2M785.5,3234.7V3686.2M930.75,3234.7V3686.2M1076,3234.7V3686.2M1221.25,3234.7V3686.2M1366.5,3234.7V3686.2M1511.75,3234.7V3686.2M204.5,3668.4H1657M204.5,3457.2H1657M204.5,3246H1657" stroke="#dfdfdf" stroke-width="3" fill="none"/>
<path d="M202.65,3234.7H1658.85M202.65,3686.2H1658.85" stroke="#262626" stroke-width="4" fill="none"/>
<path d="M204.5,3234.7V3686.2M1657,3234.7V3686.2" stroke="#262626" stroke-width="3.7" fill="none"/>
<path d="M349.75,3686.2v-16.5M349.75,3234.7v16.5M495,3686.2v-16.5M495,3234.7v16.5M640.25,3686.2v-16.5M640.25,3234.7v16.5M785.5,3686.2v-16.5M785.5,3234.7v16.5M930.75,3686.2v-16.5M930.75,3234.7v16.5M1076,3686.2v-16.5M1076,3234.7v16.5M1221.25,3686.2v-16.5M1221.25,3234.7v16.5M1366.5,3686.2v-16.5M1366.5,3234.7v16.5M1511.75,3686.2v-16.5M1511.75,3234.7v16.5M204.5,3668.4h16.5M1657,3668.4h-16.5M204.5,3457.2h16.5M1657,3457.2h-16.5M204.5,3246h16.5M1657,3246h-16.5" stroke="#262626" stroke-width="3" fill="none"/>
<g font-family='"Liberation Sans", sans-serif' fill="#262626">
<text transform="translate(203.9,3741.6) scale(0.892,1)" text-anchor="middle" font-size="42">0</text>
<text transform="translate(349.82,3741.6) scale(0.892,1)" text-anchor="middle" font-size="42" letter-spacing="1.5">0.5</text>
<text transform="translate(494.4,3741.6) scale(0.892,1)" text-anchor="middle" font-size="42" clip-path="url(#k1m)">1</text>
<text transform="translate(640.32,3741.6) scale(0.892,1)" text-anchor="middle" font-size="42" letter-spacing="1.5" clip-path="url(#k15)">1.5</text>
<text transform="translate(784.9,3741.6) scale(0.892,1)" text-anchor="middle" font-size="42">2</text>
<text transform="translate(930.82,3741.6) scale(0.892,1)" text-anchor="middle" font-size="42" letter-spacing="1.5">2.5</text>
<text transform="translate(1075.4,3741.6) scale(0.892,1)" text-anchor="middle" font-size="42">3</text>
<text transform="translate(1221.32,3741.6) scale(0.892,1)" text-anchor="middle" font-size="42" letter-spacing="1.5">3.5</text>
<text transform="translate(1365.9,3741.6) scale(0.892,1)" text-anchor="middle" font-size="42">4</text>
<text transform="translate(1511.82,3741.6) scale(0.892,1)" text-anchor="middle" font-size="42" letter-spacing="1.5">4.5</text>
<text transform="translate(1656.4,3741.6) scale(0.892,1)" text-anchor="middle" font-size="42">5</text>
<text transform="translate(189.3,3684.5) scale(0.892,1)" text-anchor="end" font-size="42">0</text>
<text transform="translate(192.64,3473.3) scale(0.892,1)" text-anchor="end" font-size="42" letter-spacing="1.5">0.5</text>
<text transform="translate(190.3,3262.1) scale(0.892,1)" text-anchor="end" font-size="42" clip-path="url(#k1e)">1</text>
</g>
<circle cx="204.5" cy="3246" r="13.7" fill="none" stroke="#0072bd" stroke-width="9.5"/>
<circle cx="495" cy="3354.68" r="13.7" fill="none" stroke="#0072bd" stroke-width="9.5"/>
<circle cx="785.5" cy="3599" r="13.7" fill="none" stroke="#0072bd" stroke-width="9.5"/>
<circle cx="1076" cy="3645.72" r="13.7" fill="none" stroke="#0072bd" stroke-width="9.5"/>
<circle cx="1366.5" cy="3654.29" r="13.7" fill="none" stroke="#0072bd" stroke-width="9.5"/>
<circle cx="1657" cy="3657.42" r="13.7" fill="none" stroke="#0072bd" stroke-width="9.5"/>
<path clip-path="url(#c5)" d="M204.5,3246L207.41,3244.86L210.31,3243.78L213.22,3242.77L216.12,3241.81L219.03,3240.91L221.93,3240.07L224.84,3239.29L227.74,3238.56L230.65,3237.89L233.55,3237.28L236.46,3236.73L239.36,3236.23L242.26,3235.78L245.17,3235.39L248.07,3235.06L250.98,3234.78L253.88,3234.55L256.79,3234.37L259.69,3234.25L262.6,3234.18L265.5,3234.16L268.41,3234.19L271.31,3234.27L274.22,3234.4L277.12,3234.58L280.03,3234.81L282.94,3235.09L285.84,3235.42L288.75,3235.79L291.65,3236.22L294.56,3236.68L297.46,3237.2L300.37,3237.76L303.27,3238.36L306.18,3239.01L309.08,3239.71L311.99,3240.45L314.89,3241.23L317.8,3242.05L320.7,3242.92L323.61,3243.83L326.51,3244.78L329.42,3245.77L332.32,3246.8L335.23,3247.88L338.13,3248.99L341.04,3250.14L343.94,3251.33L346.85,3252.56L349.75,3253.82L352.65,3255.12L355.56,3256.46L358.47,3257.84L361.37,3259.25L364.28,3260.7L367.18,3262.18L370.09,3263.69L372.99,3265.24L375.89,3266.83L378.8,3268.44L381.7,3270.09L384.61,3271.77L387.51,3273.48L390.42,3275.23L393.32,3277L396.23,3278.8L399.13,3280.64L402.04,3282.5L404.95,3284.39L407.85,3286.31L410.75,3288.26L413.66,3290.23L416.56,3292.24L419.47,3294.26L422.38,3296.32L425.28,3298.4L428.19,3300.5L431.09,3302.63L434,3304.78L436.9,3306.96L439.81,3309.16L442.71,3311.38L445.62,3313.62L448.52,3315.89L451.43,3318.17L454.33,3320.48L457.24,3322.81L460.14,3325.16L463.04,3327.52L465.95,3329.91L468.86,3332.31L471.76,3334.73L474.67,3337.17L477.57,3339.62L480.48,3342.1L483.38,3344.58L486.28,3347.09L489.19,3349.6L492.09,3352.14L495,3354.68L497.91,3357.24L500.81,3359.82L503.72,3362.4L506.62,3365L509.52,3367.61L512.43,3370.23L515.34,3372.86L518.24,3375.5L521.14,3378.16L524.05,3380.82L526.96,3383.49L529.86,3386.17L532.77,3388.85L535.67,3391.54L538.58,3394.24L541.48,3396.95L544.38,3399.66L547.29,3402.38L550.19,3405.11L553.1,3407.83L556,3410.57L558.91,3413.3L561.82,3416.04L564.72,3418.78L567.62,3421.53L570.53,3424.27L573.43,3427.02L576.34,3429.77L579.25,3432.51L582.15,3435.26L585.06,3438.01L587.96,3440.75L590.87,3443.5L593.77,3446.24L596.68,3448.98L599.58,3451.72L602.49,3454.45L605.39,3457.18L608.3,3459.91L611.2,3462.63L614.11,3465.34L617.01,3468.05L619.91,3470.75L622.82,3473.45L625.73,3476.14L628.63,3478.82L631.54,3481.49L634.44,3484.15L637.35,3486.81L640.25,3489.45L643.15,3492.09L646.06,3494.71L648.96,3497.33L651.87,3499.93L654.77,3502.52L657.68,3505.1L660.59,3507.66L663.49,3510.21L666.39,3512.75L669.3,3515.27L672.21,3517.78L675.11,3520.27L678.02,3522.75L680.92,3525.21L683.83,3527.66L686.73,3530.08L689.63,3532.49L692.54,3534.88L695.44,3537.26L698.35,3539.61L701.25,3541.94L704.16,3544.26L707.06,3546.55L709.97,3548.82L712.88,3551.08L715.78,3553.3L718.69,3555.51L721.59,3557.7L724.5,3559.86L727.4,3561.99L730.31,3564.11L733.21,3566.19L736.12,3568.26L739.02,3570.29L741.92,3572.3L744.83,3574.29L747.74,3576.24L750.64,3578.17L753.55,3580.07L756.45,3581.95L759.36,3583.79L762.26,3585.6L765.16,3587.39L768.07,3589.14L770.98,3590.87L773.88,3592.56L776.79,3594.22L779.69,3595.84L782.6,3597.44L785.5,3599L788.41,3600.53L791.31,3602.02L794.22,3603.48L797.12,3604.91L800.02,3606.31L802.93,3607.67L805.83,3609L808.74,3610.31L811.64,3611.58L814.55,3612.82L817.45,3614.03L820.36,3615.21L823.26,3616.36L826.17,3617.48L829.08,3618.58L831.98,3619.64L834.88,3620.68L837.79,3621.69L840.69,3622.67L843.6,3623.63L846.5,3624.56L849.41,3625.46L852.31,3626.34L855.22,3627.19L858.12,3628.02L861.03,3628.82L863.94,3629.6L866.84,3630.36L869.75,3631.09L872.65,3631.8L875.56,3632.48L878.46,3633.14L881.37,3633.78L884.27,3634.4L887.17,3635L890.08,3635.58L892.99,3636.14L895.89,3636.67L898.8,3637.19L901.7,3637.69L904.61,3638.16L907.51,3638.62L910.42,3639.06L913.32,3639.49L916.23,3639.89L919.13,3640.28L922.04,3640.65L924.94,3641.01L927.85,3641.34L930.75,3641.67L933.66,3641.97L936.56,3642.27L939.47,3642.54L942.37,3642.81L945.28,3643.05L948.18,3643.29L951.08,3643.51L953.99,3643.72L956.89,3643.92L959.8,3644.1L962.7,3644.27L965.61,3644.44L968.51,3644.59L971.42,3644.73L974.33,3644.85L977.23,3644.97L980.13,3645.08L983.04,3645.18L985.94,3645.28L988.85,3645.36L991.75,3645.43L994.66,3645.5L997.56,3645.56L1000.47,3645.61L1003.38,3645.66L1006.28,3645.7L1009.19,3645.73L1012.09,3645.76L1015,3645.78L1017.9,3645.8L1020.81,3645.82L1023.71,3645.83L1026.62,3645.83L1029.52,3645.84L1032.42,3645.83L1035.33,3645.83L1038.24,3645.83L1041.14,3645.82L1044.05,3645.81L1046.95,3645.8L1049.86,3645.79L1052.76,3645.78L1055.66,3645.77L1058.57,3645.76L1061.47,3645.75L1064.38,3645.74L1067.29,3645.73L1070.19,3645.72L1073.1,3645.72L1076,3645.72L1078.91,3645.72L1081.81,3645.72L1084.72,3645.73L1087.62,3645.74L1090.53,3645.75L1093.43,3645.77L1096.34,3645.78L1099.24,3645.8L1102.14,3645.83L1105.05,3645.85L1107.95,3645.88L1110.86,3645.91L1113.76,3645.94L1116.67,3645.98L1119.58,3646.02L1122.48,3646.06L1125.38,3646.1L1128.29,3646.14L1131.2,3646.19L1134.1,3646.24L1137,3646.29L1139.91,3646.34L1142.82,3646.4L1145.72,3646.46L1148.62,3646.51L1151.53,3646.58L1154.43,3646.64L1157.34,3646.7L1160.25,3646.77L1163.15,3646.84L1166.05,3646.91L1168.96,3646.99L1171.87,3647.06L1174.77,3647.14L1177.67,3647.21L1180.58,3647.29L1183.49,3647.37L1186.39,3647.46L1189.3,3647.54L1192.2,3647.63L1195.11,3647.72L1198.01,3647.8L1200.91,3647.89L1203.82,3647.99L1206.72,3648.08L1209.63,3648.17L1212.54,3648.27L1215.44,3648.37L1218.35,3648.46L1221.25,3648.56L1224.16,3648.66L1227.06,3648.77L1229.97,3648.87L1232.87,3648.97L1235.78,3649.08L1238.68,3649.18L1241.59,3649.29L1244.49,3649.4L1247.39,3649.51L1250.3,3649.61L1253.2,3649.72L1256.11,3649.84L1259.01,3649.95L1261.92,3650.06L1264.83,3650.17L1267.73,3650.29L1270.63,3650.4L1273.54,3650.52L1276.45,3650.63L1279.35,3650.75L1282.25,3650.86L1285.16,3650.98L1288.07,3651.1L1290.97,3651.21L1293.88,3651.33L1296.78,3651.45L1299.68,3651.57L1302.59,3651.69L1305.5,3651.81L1308.4,3651.93L1311.3,3652.05L1314.21,3652.16L1317.12,3652.28L1320.02,3652.4L1322.92,3652.52L1325.83,3652.64L1328.74,3652.76L1331.64,3652.88L1334.55,3653L1337.45,3653.12L1340.36,3653.24L1343.26,3653.36L1346.16,3653.47L1349.07,3653.59L1351.97,3653.71L1354.88,3653.83L1357.79,3653.94L1360.69,3654.06L1363.6,3654.18L1366.5,3654.29L1369.4,3654.41L1372.31,3654.52L1375.22,3654.63L1378.12,3654.75L1381.03,3654.86L1383.93,3654.97L1386.84,3655.08L1389.74,3655.19L1392.64,3655.3L1395.55,3655.41L1398.46,3655.52L1401.36,3655.62L1404.26,3655.73L1407.17,3655.83L1410.08,3655.94L1412.98,3656.04L1415.88,3656.14L1418.79,3656.24L1421.7,3656.34L1424.6,3656.44L1427.5,3656.54L1430.41,3656.63L1433.32,3656.73L1436.22,3656.82L1439.12,3656.91L1442.03,3657L1444.94,3657.09L1447.84,3657.18L1450.75,3657.26L1453.65,3657.35L1456.56,3657.43L1459.46,3657.51L1462.37,3657.59L1465.27,3657.67L1468.18,3657.74L1471.08,3657.82L1473.99,3657.89L1476.89,3657.96L1479.79,3658.03L1482.7,3658.1L1485.61,3658.16L1488.51,3658.23L1491.41,3658.29L1494.32,3658.35L1497.22,3658.4L1500.13,3658.46L1503.03,3658.51L1505.94,3658.56L1508.85,3658.61L1511.75,3658.66L1514.65,3658.7L1517.56,3658.74L1520.47,3658.78L1523.37,3658.82L1526.28,3658.86L1529.18,3658.89L1532.09,3658.92L1534.99,3658.95L1537.89,3658.97L1540.8,3658.99L1543.71,3659.01L1546.61,3659.03L1549.51,3659.05L1552.42,3659.06L1555.33,3659.07L1558.23,3659.07L1561.13,3659.08L1564.04,3659.08L1566.95,3659.08L1569.85,3659.07L1572.75,3659.06L1575.66,3659.05L1578.57,3659.04L1581.47,3659.02L1584.38,3659L1587.28,3658.98L1590.19,3658.96L1593.09,3658.93L1596,3658.89L1598.9,3658.86L1601.81,3658.82L1604.71,3658.78L1607.62,3658.73L1610.52,3658.68L1613.43,3658.63L1616.33,3658.58L1619.24,3658.52L1622.14,3658.45L1625.04,3658.39L1627.95,3658.32L1630.86,3658.24L1633.76,3658.17L1636.66,3658.09L1639.57,3658L1642.47,3657.91L1645.38,3657.82L1648.28,3657.73L1651.19,3657.63L1654.1,3657.52L1657,3657.42" fill="none" stroke="#000" stroke-width="10" stroke-linejoin="round"/>
<path clip-path="url(#c5)" d="M204.5,3246L207.41,3246.79L210.31,3247.56L213.22,3248.3L216.12,3249.02L219.03,3249.69L221.93,3250.33L224.84,3250.92L227.74,3251.45L230.65,3251.93L233.55,3252.34L236.46,3252.68L239.36,3252.98L242.26,3253.24L245.17,3253.47L248.07,3253.68L250.98,3253.88L253.88,3254.07L256.79,3254.27L259.69,3254.49L262.6,3254.74L265.5,3255.01L268.41,3255.34L271.31,3255.72L274.22,3256.2L277.12,3256.82L280.03,3257.56L282.94,3258.39L285.84,3259.29L288.75,3260.25L291.65,3261.23L294.56,3262.23L297.46,3263.21L300.37,3264.16L303.27,3265.09L306.18,3266.02L309.08,3266.96L311.99,3267.91L314.89,3268.87L317.8,3269.85L320.7,3270.84L323.61,3271.84L326.51,3272.86L329.42,3273.9L332.32,3274.97L335.23,3276.05L338.13,3277.17L341.04,3278.31L343.94,3279.47L346.85,3280.67L349.75,3281.9L352.65,3283.17L355.56,3284.48L358.47,3285.83L361.37,3287.22L364.28,3288.64L367.18,3290.1L370.09,3291.59L372.99,3293.11L375.89,3294.66L378.8,3296.24L381.7,3297.84L384.61,3299.47L387.51,3301.12L390.42,3302.79L393.32,3304.48L396.23,3306.19L399.13,3307.91L402.04,3309.64L404.95,3311.39L407.85,3313.15L410.75,3314.91L413.66,3316.69L416.56,3318.47L419.47,3320.25L422.38,3322.03L425.28,3323.83L428.19,3325.65L431.09,3327.5L434,3329.38L436.9,3331.29L439.81,3333.24L442.71,3335.22L445.62,3337.24L448.52,3339.3L451.43,3341.4L454.33,3343.55L457.24,3345.74L460.14,3347.99L463.04,3350.29L465.95,3352.63L468.86,3355.02L471.76,3357.44L474.67,3359.89L477.57,3362.37L480.48,3364.87L483.38,3367.4L486.28,3369.94L489.19,3372.49L492.09,3375.05L495,3377.62L497.91,3380.19L500.81,3382.76L503.72,3385.32L506.62,3387.89L509.52,3390.48L512.43,3393.08L515.34,3395.69L518.24,3398.32L521.14,3400.96L524.05,3403.62L526.96,3406.28L529.86,3408.96L532.77,3411.64L535.67,3414.34L538.58,3417.05L541.48,3419.76L544.38,3422.49L547.29,3425.22L550.19,3427.96L553.1,3430.71L556,3433.46L558.91,3436.22L561.82,3438.98L564.72,3441.75L567.62,3444.53L570.53,3447.32L573.43,3450.15L576.34,3453.01L579.25,3455.89L582.15,3458.8L585.06,3461.73L587.96,3464.68L590.87,3467.63L593.77,3470.6L596.68,3473.57L599.58,3476.54L602.49,3479.52L605.39,3482.48L608.3,3485.44L611.2,3488.38L614.11,3491.31L617.01,3494.22L619.91,3497.1L622.82,3499.96L625.73,3502.79L628.63,3505.58L631.54,3508.33L634.44,3511.05L637.35,3513.72L640.25,3516.34L643.15,3518.92L646.06,3521.48L648.96,3524.02L651.87,3526.53L654.77,3529.03L657.68,3531.5L660.59,3533.96L663.49,3536.39L666.39,3538.81L669.3,3541.21L672.21,3543.59L675.11,3545.96L678.02,3548.31L680.92,3550.64L683.83,3552.96L686.73,3555.26L689.63,3557.55L692.54,3559.83L695.44,3562.1L698.35,3564.35L701.25,3566.6L704.16,3568.83L707.06,3571.05L709.97,3573.27L712.88,3575.47L715.78,3577.68L718.69,3579.89L721.59,3582.09L724.5,3584.27L727.4,3586.43L730.31,3588.55L733.21,3590.63L736.12,3592.64L739.02,3594.6L741.92,3596.47L744.83,3598.28L747.74,3600.08L750.64,3601.87L753.55,3603.65L756.45,3605.41L759.36,3607.15L762.26,3608.87L765.16,3610.56L768.07,3612.22L770.98,3613.84L773.88,3615.43L776.79,3616.97L779.69,3618.47L782.6,3619.91L785.5,3621.3L788.41,3622.64L791.31,3623.91L794.22,3625.12L797.12,3626.25L800.02,3627.32L802.93,3628.34L805.83,3629.33L808.74,3630.29L811.64,3631.22L814.55,3632.11L817.45,3632.99L820.36,3633.83L823.26,3634.65L826.17,3635.45L829.08,3636.23L831.98,3636.98L834.88,3637.72L837.79,3638.43L840.69,3639.14L843.6,3639.82L846.5,3640.49L849.41,3641.15L852.31,3641.79L855.22,3642.43L858.12,3643.06L861.03,3643.67L863.94,3644.28L866.84,3644.88L869.75,3645.47L872.65,3646.06L875.56,3646.63L878.46,3647.19L881.37,3647.75L884.27,3648.29L887.17,3648.83L890.08,3649.36L892.99,3649.87L895.89,3650.38L898.8,3650.88L901.7,3651.37L904.61,3651.85L907.51,3652.32L910.42,3652.78L913.32,3653.23L916.23,3653.67L919.13,3654.1L922.04,3654.52L924.94,3654.93L927.85,3655.34L930.75,3655.73L933.66,3656.11L936.56,3656.49L939.47,3656.86L942.37,3657.23L945.28,3657.59L948.18,3657.94L951.08,3658.29L953.99,3658.63L956.89,3658.97L959.8,3659.3L962.7,3659.63L965.61,3659.96L968.51,3660.28L971.42,3660.59L974.33,3660.91L977.23,3661.21L980.13,3661.52L983.04,3661.82L985.94,3662.12L988.85,3662.41L991.75,3662.7L994.66,3662.99L997.56,3663.28L1000.47,3663.56L1003.38,3663.84L1006.28,3664.12L1009.19,3664.39L1012.09,3664.67L1015,3664.94L1017.9,3665.21L1020.81,3665.48L1023.71,3665.75L1026.62,3666.02L1029.52,3666.28L1032.42,3666.55L1035.33,3666.81L1038.24,3667.08L1041.14,3667.34L1044.05,3667.61L1046.95,3667.87L1049.86,3668.14L1052.76,3668.4L1055.66,3668.66L1058.57,3668.93L1061.47,3669.19L1064.38,3669.45L1067.29,3669.71L1070.19,3669.97L1073.1,3670.22L1076,3670.47L1078.91,3670.72L1081.81,3670.97L1084.72,3671.22L1087.62,3671.46L1090.53,3671.7L1093.43,3671.93L1096.34,3672.17L1099.24,3672.39L1102.14,3672.62L1105.05,3672.84L1107.95,3673.05L1110.86,3673.26L1113.76,3673.47L1116.67,3673.67L1119.58,3673.87L1122.48,3674.07L1125.38,3674.27L1128.29,3674.46L1131.2,3674.66L1134.1,3674.85L1137,3675.04L1139.91,3675.22L1142.82,3675.41L1145.72,3675.59L1148.62,3675.78L1151.53,3675.96L1154.43,3676.14L1157.34,3676.31L1160.25,3676.49L1163.15,3676.66L1166.05,3676.83L1168.96,3677L1171.87,3677.17L1174.77,3677.34L1177.67,3677.51L1180.58,3677.67L1183.49,3677.83L1186.39,3677.99L1189.3,3678.15L1192.2,3678.31L1195.11,3678.47L1198.01,3678.62L1200.91,3678.77L1203.82,3678.93L1206.72,3679.08L1209.63,3679.22L1212.54,3679.37L1215.44,3679.52L1218.35,3679.66L1221.25,3679.8L1224.16,3679.95L1227.06,3680.1L1229.97,3680.24L1232.87,3680.4L1235.78,3680.55L1238.68,3680.7L1241.59,3680.86L1244.49,3681.02L1247.39,3681.18L1250.3,3681.34L1253.2,3681.5L1256.11,3681.66L1259.01,3681.82L1261.92,3681.99L1264.83,3682.15L1267.73,3682.31L1270.63,3682.47L1273.54,3682.63L1276.45,3682.78L1279.35,3682.94L1282.25,3683.1L1285.16,3683.25L1288.07,3683.4L1290.97,3683.55L1293.88,3683.69L1296.78,3683.84L1299.68,3683.98L1302.59,3684.11L1305.5,3684.25L1308.4,3684.37L1311.3,3684.5L1314.21,3684.62L1317.12,3684.74L1320.02,3684.85L1322.92,3684.96L1325.83,3685.06L1328.74,3685.15L1331.64,3685.24L1334.55,3685.33L1337.45,3685.41L1340.36,3685.48L1343.26,3685.54L1346.16,3685.6L1349.07,3685.65L1351.97,3685.7L1354.88,3685.74L1357.79,3685.76L1360.69,3685.79L1363.6,3685.8L1366.5,3685.8L1369.4,3685.8L1372.31,3685.8L1375.22,3685.79L1378.12,3685.79L1381.03,3685.78L1383.93,3685.77L1386.84,3685.76L1389.74,3685.74L1392.64,3685.73L1395.55,3685.71L1398.46,3685.7L1401.36,3685.68L1404.26,3685.66L1407.17,3685.63L1410.08,3685.61L1412.98,3685.59L1415.88,3685.56L1418.79,3685.54L1421.7,3685.51L1424.6,3685.48L1427.5,3685.45L1430.41,3685.42L1433.32,3685.39L1436.22,3685.36L1439.12,3685.33L1442.03,3685.29L1444.94,3685.26L1447.84,3685.23L1450.75,3685.19L1453.65,3685.16L1456.56,3685.12L1459.46,3685.09L1462.37,3685.05L1465.27,3685.01L1468.18,3684.98L1471.08,3684.94L1473.99,3684.9L1476.89,3684.87L1479.79,3684.83L1482.7,3684.8L1485.61,3684.76L1488.51,3684.72L1491.41,3684.69L1494.32,3684.65L1497.22,3684.62L1500.13,3684.58L1503.03,3684.55L1505.94,3684.52L1508.85,3684.48L1511.75,3684.45L1514.65,3684.42L1517.56,3684.39L1520.47,3684.35L1523.37,3684.32L1526.28,3684.29L1529.18,3684.25L1532.09,3684.22L1534.99,3684.19L1537.89,3684.15L1540.8,3684.12L1543.71,3684.08L1546.61,3684.05L1549.51,3684.01L1552.42,3683.97L1555.33,3683.94L1558.23,3683.9L1561.13,3683.86L1564.04,3683.83L1566.95,3683.79L1569.85,3683.75L1572.75,3683.71L1575.66,3683.68L1578.57,3683.64L1581.47,3683.6L1584.38,3683.56L1587.28,3683.52L1590.19,3683.48L1593.09,3683.44L1596,3683.4L1598.9,3683.36L1601.81,3683.32L1604.71,3683.28L1607.62,3683.24L1610.52,3683.2L1613.43,3683.16L1616.33,3683.11L1619.24,3683.07L1622.14,3683.03L1625.04,3682.99L1627.95,3682.95L1630.86,3682.9L1633.76,3682.86L1636.66,3682.82L1639.57,3682.77L1642.47,3682.73L1645.38,3682.69L1648.28,3682.64L1651.19,3682.6L1654.1,3682.55L1657,3682.51" fill="none" stroke="#f00" stroke-width="9.8" stroke-linejoin="round" stroke-dasharray="33 31"/>
<rect x="1179.1" y="3261.1" width="443.6" height="154.6" fill="#fff" stroke="#262626" stroke-width="3"/>
<g font-family='"Liberation Sans", sans-serif' fill="#000" font-size="37">
<circle cx="1258.5" cy="3290.5" r="12.9" fill="none" stroke="#0072bd" stroke-width="9.9"/>
<text transform="translate(1336.3,3304.1) scale(0.975,1)">Measured data</text>
<path d="M1191.3,3338.1H1325.8" stroke="#000" stroke-width="10" fill="none"/>
<text transform="translate(1336.3,3352.2) scale(0.975,1)">Interpolated data</text>
<path d="M1191.3,3386.1H1325.8" stroke="#f00" stroke-width="9.8" stroke-dasharray="33 31" fill="none"/>
<text transform="translate(1336.3,3400.5) scale(0.975,1)">Estimated model</text>
</g>
<g font-family='"Liberation Serif", serif' fill="#000" stroke="#000" stroke-width="0.7">
<text transform="translate(730.03,3200.9) scale(1.1056,1)" font-size="71.5" font-style="italic">NiO</text>
<text transform="translate(887.62,3200.9) scale(1.0094,1)" font-size="71.5" font-style="italic">O</text>
<text transform="translate(939.2,3210.3) scale(1.0238,1)" font-size="48">3</text>
<text transform="translate(991.69,3200.9) scale(1.0058,1)" font-size="71.5">(NP)</text>
</g>
<g font-family='"Liberation Serif", serif' fill="#262626" stroke="#262626" stroke-width="0.7">
<text transform="translate(773.64,3811.2) scale(1.0605,1)" font-size="69">time</text>
<text transform="translate(929.37,3811.2) scale(1.0168,1)" font-size="69">(min)</text>
</g>
<g font-family='"Liberation Serif", serif' fill="#262626" stroke="#262626" stroke-width="0.6" font-style="italic" transform="translate(80.5,3460.45) rotate(-90)">
<rect x="-26.5" y="-1.45" width="53.4" height="2.9" stroke="none"/>
<text x="-18.8" y="-9" font-size="55">C</text>
<text x="-27.2" y="40.7" font-size="55">C</text>
<text x="6" y="48" font-size="37" font-style="normal">0</text>
</g>
<clipPath id="c6"><rect x="198.5" y="3894.6" width="1464.5" height="463.7"/></clipPath>
<path d="M349.75,3900.6V4352.3M495,3900.6V4352.3M640.25,3900.6V4352.3M785.5,3900.6V4352.3M930.75,3900.6V4352.3M1076,3900.6V4352.3M1221.25,3900.6V4352.3M1366.5,3900.6V4352.3M1511.75,3900.6V4352.3M204.5,4254.33H1657M204.5,4156.35H1657M204.5,4058.38H1657M204.5,3960.4H1657" stroke="#dfdfdf" stroke-width="3" fill="none"/>
<path d="M202.65,3900.6H1658.85M202.65,4352.3H1658.85" stroke="#262626" stroke-width="4" fill="none"/>
<path d="M204.5,3900.6V4352.3M1657,3900.6V4352.3" stroke="#262626" stroke-width="3.7" fill="none"/>
<path d="M349.75,4352.3v-16.5M349.75,3900.6v16.5M495,4352.3v-16.5M495,3900.6v16.5M640.25,4352.3v-16.5M640.25,3900.6v16.5M785.5,4352.3v-16.5M785.5,3900.6v16.5M930.75,4352.3v-16.5M930.75,3900.6v16.5M1076,4352.3v-16.5M1076,3900.6v16.5M1221.25,4352.3v-16.5M1221.25,3900.6v16.5M1366.5,4352.3v-16.5M1366.5,3900.6v16.5M1511.75,4352.3v-16.5M1511.75,3900.6v16.5M204.5,4254.33h16.5M1657,4254.33h-16.5M204.5,4156.35h16.5M1657,4156.35h-16.5M204.5,4058.38h16.5M1657,4058.38h-16.5M204.5,3960.4h16.5M1657,3960.4h-16.5" stroke="#262626" stroke-width="3" fill="none"/>
<g font-family='"Liberation Sans", sans-serif' fill="#262626">
<text transform="translate(203.9,4407.7) scale(0.892,1)" text-anchor="middle" font-size="42">0</text>
<text transform="translate(349.82,4407.7) scale(0.892,1)" text-anchor="middle" font-size="42" letter-spacing="1.5">0.5</text>
<text transform="translate(494.4,4407.7) scale(0.892,1)" text-anchor="middle" font-size="42" clip-path="url(#k1m)">1</text>
<text transform="translate(640.32,4407.7) scale(0.892,1)" text-anchor="middle" font-size="42" letter-spacing="1.5" clip-path="url(#k15)">1.5</text>
<text transform="translate(784.9,4407.7) scale(0.892,1)" text-anchor="middle" font-size="42">2</text>
<text transform="translate(930.82,4407.7) scale(0.892,1)" text-anchor="middle" font-size="42" letter-spacing="1.5">2.5</text>
<text transform="translate(1075.4,4407.7) scale(0.892,1)" text-anchor="middle" font-size="42">3</text>
<text transform="translate(1221.32,4407.7) scale(0.892,1)" text-anchor="middle" font-size="42" letter-spacing="1.5">3.5</text>
<text transform="translate(1365.9,4407.7) scale(0.892,1)" text-anchor="middle" font-size="42">4</text>
<text transform="translate(1511.82,4407.7) scale(0.892,1)" text-anchor="middle" font-size="42" letter-spacing="1.5">4.5</text>
<text transform="translate(1656.4,4407.7) scale(0.892,1)" text-anchor="middle" font-size="42">5</text>
<text transform="translate(191.64,4368.4) scale(0.892,1)" text-anchor="end" font-size="42" letter-spacing="1.5" clip-path="url(#k1n)">-1</text>
<text transform="translate(192.64,4270.43) scale(0.892,1)" text-anchor="end" font-size="42" letter-spacing="1.5">-0.5</text>
<text transform="translate(189.3,4172.45) scale(0.892,1)" text-anchor="end" font-size="42">0</text>
<text transform="translate(192.64,4074.47) scale(0.892,1)" text-anchor="end" font-size="42" letter-spacing="1.5">0.5</text>
<text transform="translate(190.3,3976.5) scale(0.892,1)" text-anchor="end" font-size="42" clip-path="url(#k1e)">1</text>
</g>
<circle cx="1654.5" cy="4151.64" r="4.7" fill="#00f"/>
<path clip-path="url(#c6)" d="M204.5,4156.35L237.04,3900.64L271.31,4161.25L274.22,4163.53L277.12,4165.8L280.03,4168.04L282.94,4170.26L285.84,4172.46L288.75,4174.63L291.65,4176.79L294.56,4178.92L297.46,4181.03L300.37,4183.12L303.27,4185.19L306.18,4187.23L309.08,4189.26L311.99,4191.26L314.89,4193.24L317.8,4195.2L320.7,4197.14L323.61,4199.05L326.51,4200.95L329.42,4202.82L332.32,4204.67L335.23,4206.5L338.13,4208.31L341.04,4210.09L343.94,4211.85L346.85,4213.6L349.75,4215.32L352.65,4217.01L355.56,4218.69L358.47,4220.35L361.37,4221.98L364.28,4223.59L367.18,4225.18L370.09,4226.75L372.99,4228.29L375.89,4229.82L378.8,4231.32L381.7,4232.8L384.61,4234.26L387.51,4235.7L390.42,4237.12L393.32,4238.51L396.23,4239.88L399.13,4241.23L402.04,4242.56L404.95,4243.87L407.85,4245.16L410.75,4246.42L413.66,4247.66L416.56,4248.88L419.47,4250.08L422.38,4251.26L425.28,4252.41L428.19,4253.55L431.09,4254.66L434,4255.75L436.9,4256.82L439.81,4257.86L442.71,4258.89L445.62,4259.89L448.52,4260.87L451.43,4261.83L454.33,4262.77L457.24,4263.69L460.14,4264.58L463.04,4265.45L465.95,4266.3L468.86,4267.13L471.76,4267.94L474.67,4268.73L477.57,4269.49L480.48,4270.23L483.38,4270.95L486.28,4271.65L489.19,4272.33L492.09,4272.98L495,4273.62L497.91,4274.23L500.81,4274.82L503.72,4275.39L506.62,4275.94L509.52,4276.46L512.43,4276.97L515.34,4277.45L518.24,4277.91L521.14,4278.34L524.05,4278.76L526.96,4279.16L529.86,4279.53L532.77,4279.88L535.67,4280.21L538.58,4280.52L541.48,4280.8L544.38,4281.07L547.29,4281.31L550.19,4281.53L553.1,4281.73L556,4281.91L558.91,4282.06L561.82,4282.2L564.72,4282.31L567.62,4282.4L570.53,4282.47L573.43,4282.52L576.34,4282.54L579.25,4282.55L582.15,4282.53L585.06,4282.49L587.96,4282.43L590.87,4282.34L593.77,4282.24L596.68,4282.11L599.58,4281.96L602.49,4281.79L605.39,4281.6L608.3,4281.39L611.2,4281.15L614.11,4280.9L617.01,4280.62L619.91,4280.32L622.82,4280L625.73,4279.65L628.63,4279.29L631.54,4278.9L634.44,4278.49L637.35,4278.06L640.25,4277.61L643.15,4277.13L646.06,4276.64L648.96,4276.12L651.87,4275.58L654.77,4275.02L657.68,4274.44L660.59,4273.83L663.49,4273.2L666.39,4272.56L669.3,4271.89L672.21,4271.19L675.11,4270.48L678.02,4269.75L680.92,4268.99L683.83,4268.21L686.73,4267.41L689.63,4266.59L692.54,4265.75L695.44,4264.88L698.35,4263.99L701.25,4263.08L704.16,4262.15L707.06,4261.2L709.97,4260.23L712.88,4259.23L715.78,4258.22L718.69,4257.18L721.59,4256.12L724.5,4255.03L727.4,4253.93L730.31,4252.8L733.21,4251.65L736.12,4250.48L739.02,4249.29L741.92,4248.08L744.83,4246.85L747.74,4245.59L750.64,4244.31L753.55,4243.01L756.45,4241.69L759.36,4240.35L762.26,4238.98L765.16,4237.6L768.07,4236.19L770.98,4234.76L773.88,4233.3L776.79,4231.83L779.69,4230.34L782.6,4228.82L785.5,4227.28L788.41,4225.74L791.31,4224.21L794.22,4222.71L797.12,4221.22L800.02,4219.74L802.93,4218.28L805.83,4216.84L808.74,4215.42L811.64,4214.01L814.55,4212.62L817.45,4211.25L820.36,4209.89L823.26,4208.55L826.17,4207.23L829.08,4205.92L831.98,4204.64L834.88,4203.36L837.79,4202.11L840.69,4200.87L843.6,4199.65L846.5,4198.44L849.41,4197.25L852.31,4196.08L855.22,4194.93L858.12,4193.79L861.03,4192.67L863.94,4191.56L866.84,4190.48L869.75,4189.41L872.65,4188.35L875.56,4187.31L878.46,4186.29L881.37,4185.29L884.27,4184.3L887.17,4183.33L890.08,4182.38L892.99,4181.44L895.89,4180.53L898.8,4179.62L901.7,4178.74L904.61,4177.87L907.51,4177.02L910.42,4176.18L913.32,4175.36L916.23,4174.56L919.13,4173.77L922.04,4173.01L924.94,4172.26L927.85,4171.52L930.75,4170.8L933.66,4170.1L936.56,4169.42L939.47,4168.75L942.37,4168.1L945.28,4167.47L948.18,4166.85L951.08,4166.25L953.99,4165.67L956.89,4165.1L959.8,4164.55L962.7,4164.02L965.61,4163.5L968.51,4163L971.42,4162.52L974.33,4162.05L977.23,4161.6L980.13,4161.17L983.04,4160.76L985.94,4160.36L988.85,4159.98L991.75,4159.61L994.66,4159.26L997.56,4158.93L1000.47,4158.62L1003.38,4158.32L1006.28,4158.04L1009.19,4157.78L1012.09,4157.53L1015,4157.3L1017.9,4157.08L1020.81,4156.89L1023.71,4156.71L1026.62,4156.54L1029.52,4156.4L1032.42,4156.27L1035.33,4156.16L1038.24,4156.06L1041.14,4155.98L1044.05,4155.92L1046.95,4155.87L1049.86,4155.84L1052.76,4155.83L1055.66,4155.84L1058.57,4155.86L1061.47,4155.9L1064.38,4155.95L1067.29,4156.02L1070.19,4156.11L1073.1,4156.22L1076,4156.34L1078.91,4156.47L1081.81,4156.6L1084.72,4156.73L1087.62,4156.85L1090.53,4156.98L1093.43,4157.1L1096.34,4157.22L1099.24,4157.34L1102.14,4157.46L1105.05,4157.57L1107.95,4157.69L1110.86,4157.8L1113.76,4157.91L1116.67,4158.02L1119.58,4158.13L1122.48,4158.24L1125.38,4158.34L1128.29,4158.45L1131.2,4158.55L1134.1,4158.65L1137,4158.75L1139.91,4158.84L1142.82,4158.94L1145.72,4159.03L1148.62,4159.13L1151.53,4159.22L1154.43,4159.31L1157.34,4159.4L1160.25,4159.48L1163.15,4159.57L1166.05,4159.65L1168.96,4159.73L1171.87,4159.81L1174.77,4159.89L1177.67,4159.97L1180.58,4160.04L1183.49,4160.12L1186.39,4160.19L1189.3,4160.26L1192.2,4160.33L1195.11,4160.4L1198.01,4160.46L1200.91,4160.53L1203.82,4160.59L1206.72,4160.65L1209.63,4160.71L1212.54,4160.77L1215.44,4160.83L1218.35,4160.88L1221.25,4160.94L1224.16,4160.99L1227.06,4161.04L1229.97,4161.09L1232.87,4161.14L1235.78,4161.18L1238.68,4161.23L1241.59,4161.27L1244.49,4161.31L1247.39,4161.35L1250.3,4161.39L1253.2,4161.43L1256.11,4161.46L1259.01,4161.49L1261.92,4161.53L1264.83,4161.56L1267.73,4161.59L1270.63,4161.61L1273.54,4161.64L1276.45,4161.66L1279.35,4161.68L1282.25,4161.71L1285.16,4161.73L1288.07,4161.74L1290.97,4161.76L1293.88,4161.77L1296.78,4161.79L1299.68,4161.8L1302.59,4161.81L1305.5,4161.82L1308.4,4161.82L1311.3,4161.83L1314.21,4161.83L1317.12,4161.84L1320.02,4161.84L1322.92,4161.84L1325.83,4161.83L1328.74,4161.83L1331.64,4161.82L1334.55,4161.82L1337.45,4161.81L1340.36,4161.8L1343.26,4161.79L1346.16,4161.77L1349.07,4161.76L1351.97,4161.74L1354.88,4161.72L1357.79,4161.7L1360.69,4161.68L1363.6,4161.66L1366.5,4161.64L1369.4,4161.61L1372.31,4161.58L1375.22,4161.55L1378.12,4161.52L1381.03,4161.49L1383.93,4161.46L1386.84,4161.42L1389.74,4161.39L1392.64,4161.35L1395.55,4161.31L1398.46,4161.27L1401.36,4161.22L1404.26,4161.18L1407.17,4161.13L1410.08,4161.09L1412.98,4161.04L1415.88,4160.99L1418.79,4160.93L1421.7,4160.88L1424.6,4160.82L1427.5,4160.77L1430.41,4160.71L1433.32,4160.65L1436.22,4160.59L1439.12,4160.52L1442.03,4160.46L1444.94,4160.39L1447.84,4160.32L1450.75,4160.25L1453.65,4160.18L1456.56,4160.11L1459.46,4160.04L1462.37,4159.96L1465.27,4159.88L1468.18,4159.8L1471.08,4159.72L1473.99,4159.64L1476.89,4159.56L1479.79,4159.47L1482.7,4159.39L1485.61,4159.3L1488.51,4159.21L1491.41,4159.12L1494.32,4159.03L1497.22,4158.93L1500.13,4158.83L1503.03,4158.74L1505.94,4158.64L1508.85,4158.54L1511.75,4158.44L1514.65,4158.33L1517.56,4158.23L1520.47,4158.12L1523.37,4158.01L1526.28,4157.9L1529.18,4157.79L1532.09,4157.68L1534.99,4157.56L1537.89,4157.45L1540.8,4157.33L1543.71,4157.21L1546.61,4157.09L1549.51,4156.96L1552.42,4156.84L1555.33,4156.71L1558.23,4156.59L1561.13,4156.46L1564.04,4156.33L1566.95,4156.2L1569.85,4156.06L1572.75,4155.93L1575.66,4155.79L1578.57,4155.65L1581.47,4155.51L1584.38,4155.37L1587.28,4155.23L1590.19,4155.09L1593.09,4154.94L1596,4154.79L1598.9,4154.64L1601.81,4154.49L1604.71,4154.34L1607.62,4154.19L1610.52,4154.03L1613.43,4153.88L1616.33,4153.72L1619.24,4153.56L1622.14,4153.4L1625.04,4153.23L1627.95,4153.07L1630.86,4152.9L1633.76,4152.73L1636.66,4152.56L1639.57,4152.39L1642.47,4152.22L1645.38,4152.05L1648.28,4151.87L1651.19,4151.7L1654.1,4151.52L1657,4151.34" fill="none" stroke="#00f" stroke-width="10" stroke-linejoin="round"/>
<circle cx="591.74" cy="4290.18" r="13.4" fill="none" stroke="#d95319" stroke-width="14.5"/>
<rect x="1080.4" y="3926.8" width="542.3" height="106.8" fill="#fff" stroke="#262626" stroke-width="3"/>
<g font-family='"Liberation Sans", sans-serif' fill="#000" font-size="37">
<path d="M1092.8,3956.9H1228" stroke="#00f" stroke-width="10" fill="none"/>
<text transform="translate(1237.8,3970.7) scale(0.975,1)">Estimated reaction rate</text>
<circle cx="1160.3" cy="4003.9" r="13.4" fill="none" stroke="#d95319" stroke-width="14.5"/>
<text transform="translate(1237.8,4020) scale(0.975,1)">Maximum Rate</text>
</g>
<g font-family='"Liberation Serif", serif' fill="#262626" stroke="#262626" stroke-width="0.7">
<text transform="translate(773.64,4477.3) scale(1.0605,1)" font-size="69">time</text>
<text transform="translate(929.37,4477.3) scale(1.0168,1)" font-size="69">(min)</text>
</g>
<g font-family='"Liberation Serif", serif' fill="#262626" stroke="#262626" stroke-width="0.6" font-style="italic" transform="translate(66.8,4126.45) rotate(-90)">
<rect x="-55.75" y="-1.45" width="41.4" height="2.9" stroke="none"/>
<text x="-47.45" y="-9" font-size="51">d</text>
<text x="-56.35" y="40.7" font-size="51">dt</text>
<rect x="1.25" y="-1.45" width="53.4" height="2.9" stroke="none"/>
<text x="8.95" y="-9" font-size="55">C</text>
<text x="0.55" y="40.7" font-size="55">C</text>
<text x="33.75" y="48" font-size="37" font-style="normal">0</text>
</g>
<g font-family='"Liberation Serif", serif' fill="#000" stroke="#000" stroke-width="0.5">
<text transform="translate(807.65,4618.2) scale(0.9489,1)" font-size="75.5">(</text>
<text transform="translate(830.59,4618.2) scale(0.9707,1)" font-size="75.5" font-weight="bold">c</text>
<text transform="translate(863.74,4618.2) scale(0.9283,1)" font-size="75.5">)</text>
</g>
</svg></body></html>
